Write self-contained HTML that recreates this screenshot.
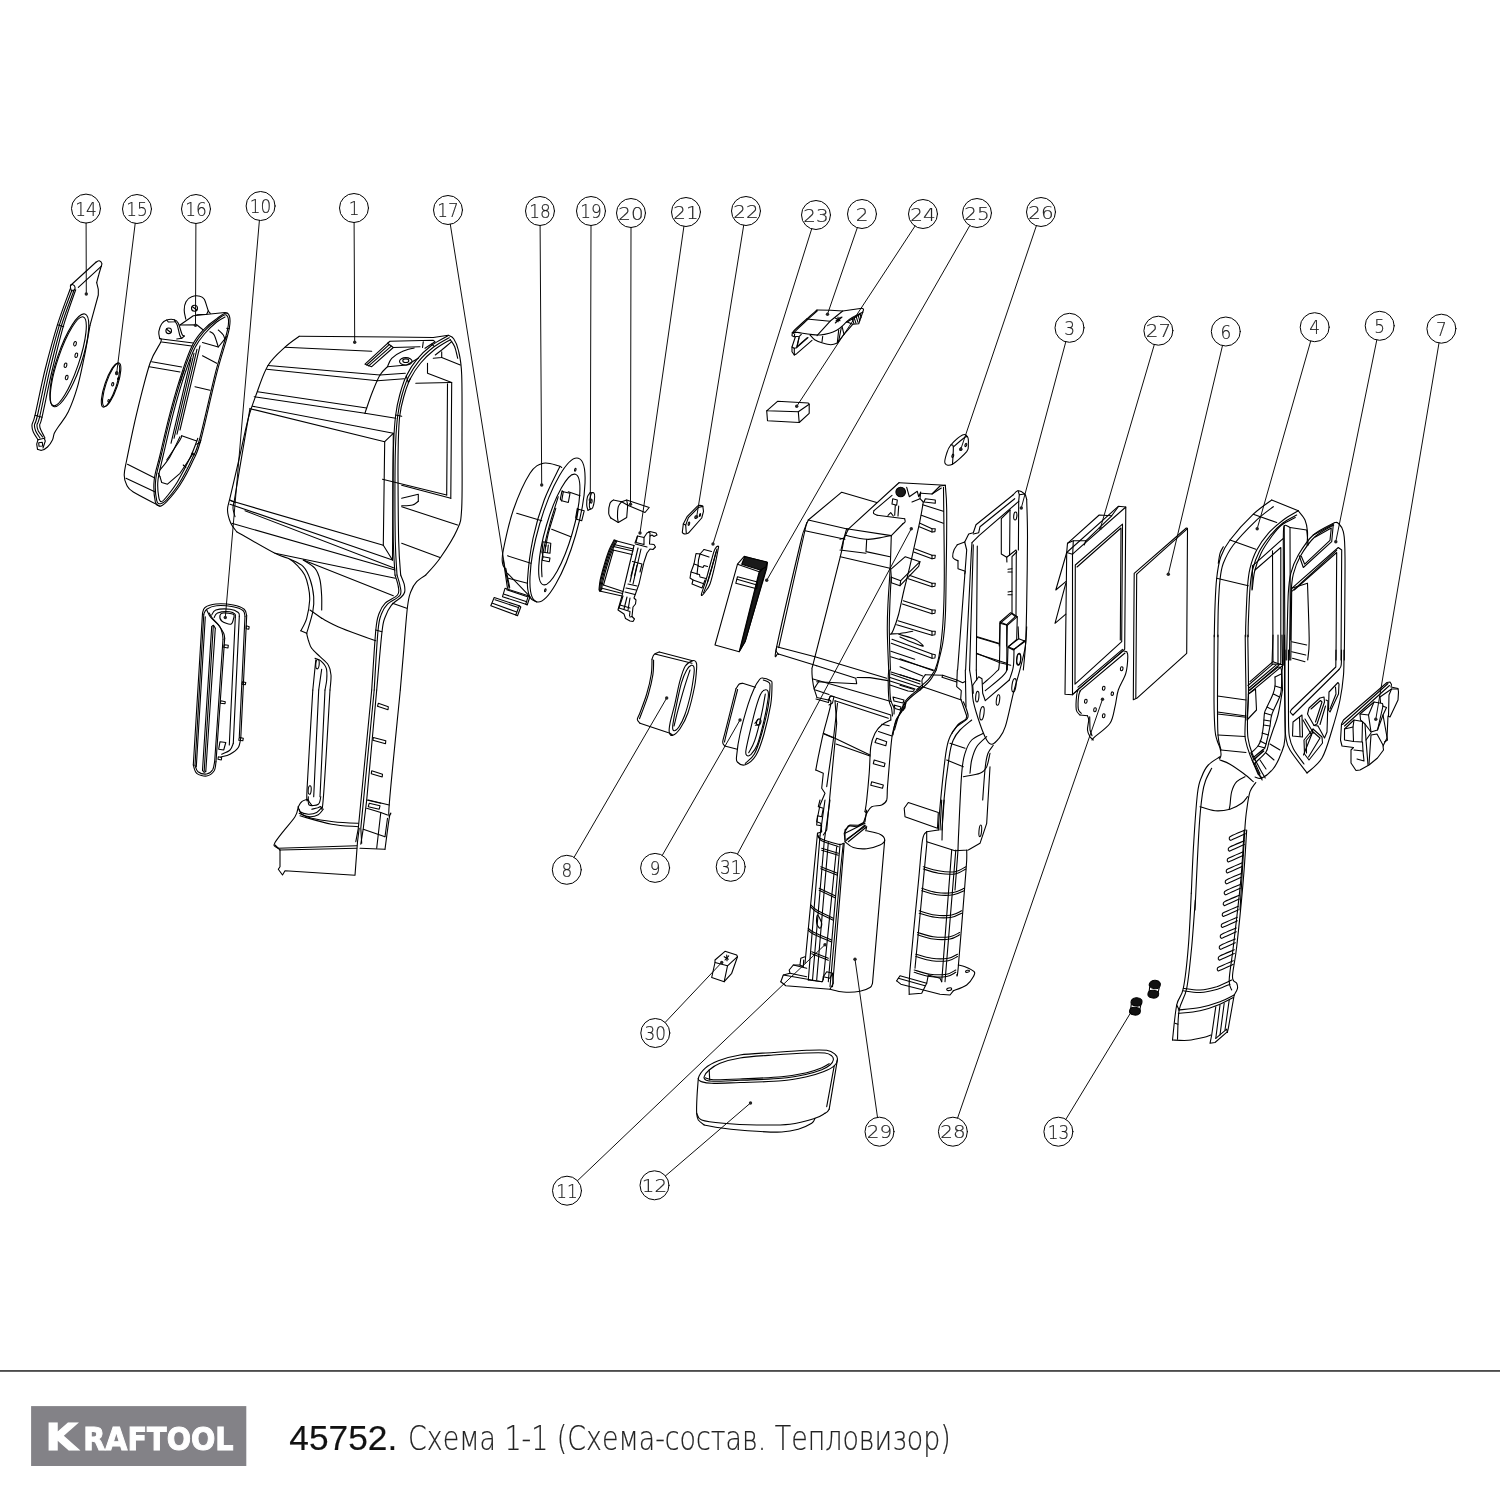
<!DOCTYPE html>
<html lang="ru"><head><meta charset="utf-8"><title>45752. Схема 1-1 (Схема-состав. Тепловизор)</title>
<style>
html,body{margin:0;padding:0;background:#fff}
body{width:1500px;height:1500px;overflow:hidden;position:relative;font-family:"Liberation Sans",sans-serif}
svg{position:absolute;left:0;top:0;will-change:transform}
#dw path,#dw ellipse,#dw circle{fill:none;stroke:#000;stroke-width:1.1;stroke-linecap:round;stroke-linejoin:round}
#dw .co circle{stroke:#000;stroke-width:1}
#dw .ld path{stroke:#000;stroke-width:.95}
#dw .dot{fill:#222;stroke:none}
#dw text{font-family:"DejaVu Sans Light","DejaVu Sans","Liberation Sans",sans-serif;font-weight:200;fill:#222;stroke:#222;stroke-width:.2;text-anchor:middle}
</style></head><body>
<svg id="dw" width="1500" height="1500" viewBox="0 0 1500 1500">
<!-- 01_p14_15.txt -->
<g>
<path d="M70.5 285.5L96.2 262"/>
<path d="M96.2 262C96.7 261.8 98.2 260.6 99.2 260.8C100.1 261.1 101.5 262.4 101.8 263.3C102.2 264.2 101.3 265.8 101.2 266.3"/>
<path d="M101.2 266.3L78.3 287.3"/>
<path d="M70.5 285.5C70.8 284.6 72.2 284.4 73 284.7C73.8 284.9 74.8 286.1 75 287C75.2 287.9 74.8 289.4 74.2 290C73.6 290.6 71.9 291.1 71.3 290.3C70.7 289.6 70.2 286.4 70.5 285.5Z"/>
<path d="M101.2 266.3C100.8 267.8 99.4 272.3 98.7 275C97.9 277.7 97 281.4 96.7 282.7"/>
<path d="M96.7 282.7L98.3 289.3L98.3 295L90 325.3"/>
<path d="M90 325.3C89.2 330 87.1 343.1 85 353.3C82.9 363.6 80.3 376.9 77.5 386.7C74.7 396.4 71.5 405.1 68.3 411.7C65.2 418.3 61 422.7 58.7 426.3C56.3 429.9 55.4 431 54.3 433.3C53.3 435.7 53.5 438.1 52.3 440.3C51.2 442.6 49.3 445.3 47.5 447C45.7 448.7 43.3 449.9 41.7 450.3C40 450.7 38.2 449.5 37.5 449.3"/>
<path d="M70.3 288.7C68.2 294.7 61.7 311.1 57.5 324.7C53.3 338.2 48.8 354.9 45 370C41.2 385.1 37.2 406.2 35 415.3C32.8 424.5 32.3 422.2 32 425C31.7 427.8 32.3 429.6 33.3 432C34.3 434.4 37.2 438.4 38 439.7"/>
<path d="M72 290C69.9 295.9 63.4 311.9 59.3 325.3C55.2 338.7 51 355.2 47.3 370.3C43.7 385.4 39.5 406.9 37.3 416C35.2 425.1 34.8 422.4 34.5 425C34.2 427.6 34.9 429.2 35.8 431.3C36.7 433.5 39.3 436.9 40 438"/>
<path d="M74 290.3C71.9 296.3 65.4 312.6 61.3 326C57.3 339.4 53.3 355.6 49.7 370.7C46.1 385.8 41.8 407.6 39.7 416.7C37.6 425.7 37.2 422.6 37 425C36.8 427.4 37.4 429 38.3 431C39.3 433 41.9 436 42.7 437"/>
<path d="M75.7 289.7C73.6 295.8 67.3 312.8 63.3 326.3C59.4 339.9 55.6 355.8 52 371C48.4 386.2 44.1 408.3 42 417.3C39.9 426.3 39.8 422.8 39.7 425C39.5 427.2 40.1 428.2 41 430.3C41.9 432.5 44.3 436.7 45 438"/>
<path d="M57.5 324.7L63.7 326.7"/>
<path d="M35 415.3L42 417.3"/>
<path d="M38 439.7L36.7 444.2L37.5 449.3"/>
<path d="M38 439.7L44.2 438.3L45.3 441L43 448"/>
<path d="M38.7 442.7L42.3 442.3L42.7 446L39 446.3Z"/>
<ellipse cx="69.3" cy="360.3" rx="48.8" ry="12.2" transform="rotate(108.7 69.3 360.3)"/>
<ellipse cx="68.3" cy="361.3" rx="46.8" ry="10.5" transform="rotate(108.7 68.3 361.3)"/>
<ellipse cx="75" cy="343.7" rx="1.3" ry="2.3" transform="rotate(15 75 343.7)"/>
<ellipse cx="76.3" cy="355.3" rx="1.3" ry="2.3" transform="rotate(15 76.3 355.3)"/>
<ellipse cx="65.5" cy="365.3" rx="1.3" ry="2.3" transform="rotate(15 65.5 365.3)"/>
<ellipse cx="66.7" cy="377.5" rx="1.3" ry="2.3" transform="rotate(15 66.7 377.5)"/>
<ellipse cx="111.7" cy="384.7" rx="23" ry="5.7" transform="rotate(108.8 111.7 384.7)"/>
<ellipse cx="110.5" cy="385.3" rx="23" ry="5.7" transform="rotate(108.8 110.5 385.3)"/>
<ellipse cx="116.7" cy="373.3" rx="1" ry="1.5" transform="rotate(10 116.7 373.3)"/>
<ellipse cx="112.7" cy="384.3" rx="1" ry="1.7" transform="rotate(10 112.7 384.3)"/>
<ellipse cx="108.7" cy="400.8" rx="0.8" ry="1.3" transform="rotate(10 108.7 400.8)"/>
<ellipse cx="118.3" cy="378.7" rx="0.7" ry="1" transform="rotate(10 118.3 378.7)"/>
</g>
<!-- 02_p16.txt -->
<g>
<path d="M159.7 338.3C159.9 338.9 162.4 337.8 160.8 342C159.2 346.2 154 351.4 150 363.3C146 375.2 140.6 397.2 136.7 413.3C132.8 429.4 128.8 449.7 126.7 460C124.6 470.3 124.2 470.8 124.2 475C124.2 479.2 125.1 482.2 126.7 485C128.2 487.8 127.8 488.5 133.3 492C138.9 495.5 155.6 503.8 160 506.2"/>
<path d="M227.5 313.3C229.6 314.9 231.1 318.3 229.3 328.3C227.5 338.3 221.4 354.7 216.7 373.3C211.9 391.9 204.7 425.6 200.8 440C196.9 454.4 196.8 452.5 193.3 460C189.9 467.5 184.4 478.1 180 485C175.6 491.9 170 498.1 166.7 501.7C163.3 505.2 161.9 506.2 160 506.2C158.1 506.2 156.3 506 155.3 501.7C154.4 497.3 153.4 487.8 154.2 480C154.9 472.2 157.4 466.1 160 455C162.6 443.9 166.4 426.9 170 413.3C173.6 399.7 177.9 384.7 181.7 373.3C185.4 361.9 188.9 352.2 192.5 345C196.1 337.8 199.3 334.4 203.3 330C207.4 325.6 212.6 321.4 216.7 318.7C220.7 315.9 225.4 311.7 227.5 313.3Z"/>
<path d="M226.3 315C228.2 316.4 229.7 318.6 227.8 328.3C226 338.1 220.1 354.8 215.3 373.3C210.6 391.9 203.4 425.2 199.5 439.5C195.6 453.8 195.4 451.6 192 459C188.6 466.4 183.2 476.9 179 483.7C174.8 490.4 169.7 496.3 166.7 499.7C163.6 503 162.3 503.6 160.7 503.7C159 503.8 157.5 504.3 156.7 500.3C155.8 496.4 154.9 487.6 155.7 480C156.4 472.4 158.7 466.1 161.3 455C163.9 443.9 167.7 426.9 171.3 413.3C174.9 399.7 179.3 384.6 183 373.3C186.7 362.1 190.2 353 193.7 346C197.2 339 200.2 335.6 204 331.3C207.8 327 212.9 322.9 216.7 320.2C220.4 317.4 224.5 313.6 226.3 315Z"/>
<path d="M225 317C223.6 317.8 219.9 319.3 216.7 322C213.4 324.7 208.9 328.8 205.3 333C201.8 337.2 198.7 340.3 195.3 347C191.9 353.7 188.7 362.3 185 373.3C181.3 384.4 176.9 399.7 173.3 413.3C169.7 426.9 165.9 443.9 163.3 455C160.8 466.1 158.8 473.1 158 480C157.2 486.9 158.1 493.1 158.7 496.7C159.2 500.3 160 501.7 161.3 501.7C162.7 501.7 164 500 166.7 496.7C169.4 493.3 173.6 488.2 177.5 481.7C181.4 475.1 186.9 464.6 190.3 457.3C193.7 450.1 196.6 441.5 197.8 438.3"/>
<path d="M180 325L193.3 315.8L225 312.5L227.5 313.3"/>
<path d="M180 325L196.7 324.7L203.3 330"/>
<path d="M159.7 338.7L193.3 343"/>
<path d="M161.7 342L191.7 346"/>
<path d="M185.8 319.2C185.6 317.6 184.1 312.9 184.2 310C184.2 307.1 184.8 303.9 186 301.7C187.2 299.4 189.3 297.6 191.7 296.7C194 295.8 197.9 295.7 200 296.2C202.1 296.6 202.9 296.9 204.3 299.3C205.7 301.8 207.3 308.5 208.3 310.8C209.3 313.2 210 312.9 210.3 313.3"/>
<path d="M208.3 310.8L206.7 314.3L196.7 314.7"/>
<ellipse cx="194.5" cy="308.3" rx="3" ry="3"/>
<path d="M192.5 306.7L196.7 310"/>
<path d="M159.7 338.3C159.5 337.2 158.5 334.1 158.8 331.7C159.2 329.2 160.4 325.6 161.7 323.7C163 321.7 164.6 320.7 166.7 320C168.8 319.3 172.4 319.1 174.3 319.7C176.3 320.2 177.1 320.9 178.3 323.3C179.6 325.8 181 332.1 182 334.2C183 336.3 183.9 335.7 184.3 336"/>
<path d="M184.3 336L181.7 338.3L176.7 339"/>
<path d="M166.7 320L168.3 322L175.3 321.7L174.3 319.7"/>
<path d="M175.3 321.7C175.7 322.4 176.8 323.6 177.5 325.8C178.2 328.1 179 332.9 179.7 335C180.4 337.1 181.3 337.8 181.7 338.3"/>
<ellipse cx="168.7" cy="330.8" rx="2.8" ry="2.8"/>
<path d="M166.7 329.2L170.8 332.5"/>
<path d="M151.7 361.7L181.7 367"/>
<path d="M149.3 366.7L180 372"/>
<path d="M127.5 464.2L154.3 477.7"/>
<path d="M126 478.3L155.3 492"/>
<path d="M202.5 355.8L216.7 363.3"/>
<path d="M195 386.7L210 390.3"/>
<path d="M181.7 435.8L196.7 441"/>
<path d="M202.5 342.5L218.3 347L226.7 336.7"/>
<path d="M210 331.7C210.7 332.2 212.8 332.4 214.2 335C215.6 337.6 217.6 345 218.3 347"/>
<path d="M218.3 330C219.2 330.8 222.2 333.3 223.3 335C224.4 336.7 224.7 339.2 225 340"/>
<path d="M226.7 328.3L229.3 328.7"/>
<path d="M200 345.8L180 430"/>
<path d="M197 349.2L177 434.2"/>
<path d="M194 353.3L174 438.3"/>
<path d="M191 358.3L171 443.3"/>
<path d="M200.8 440C200.7 440.4 200.7 441.8 200 442.5C199.3 443.2 197.2 443.9 196.7 444.2"/>
<path d="M181.7 378.3C181.4 379 179.6 383.9 180 382.5C180.4 381.1 183.5 372.1 184.2 370"/>
<path d="M166.7 460C168.9 456.7 177.5 444 180 440C182.5 436 181.4 436.5 181.7 435.8"/>
<path d="M160 470C161.7 467.8 166.7 462.2 170 456.7C173.3 451.1 178.3 440 180 436.7"/>
<path d="M160 476.7L161.7 482.5L167.5 484.2L180 473.3L193.3 453.3"/>
<path d="M158.3 473.3L160 476.7"/>
<path d="M183.3 465L185.8 467.5"/>
<path d="M191.7 453.3L195 455"/>
</g>
<!-- 03_p1_top.txt -->
<g>
<path d="M299.2 336.3C296.8 338.1 290.2 342.3 285 347.2C279.8 352 272.7 357.8 268 365.5C263.3 373.2 259.9 384.5 256.7 393.3C253.4 402.1 251.2 407.5 248.3 418.3C245.4 429.2 242.2 445.3 239.2 458.3C236.2 471.4 232.3 488.1 230.3 496.7C228.4 505.3 227.4 505.6 227.5 510C227.6 514.4 229.3 519.7 230.8 523.3C232.4 526.9 235.7 530.3 236.7 531.7"/>
<path d="M250 408.3C248.6 416.4 244.2 441.7 241.7 456.7C239.1 471.7 236.1 489.7 234.7 498.3C233.2 506.9 232.9 505.3 233 508.3C233.1 511.4 234.7 515.3 235 516.7"/>
<path d="M299.2 336.3L391.7 337L433.3 337.5L448.3 335.3"/>
<path d="M448.3 335.3C449.2 335.9 452 336.2 453.7 338.7C455.3 341.1 457 343.9 458.3 350C459.7 356.1 461.1 359.7 461.7 375C462.3 390.3 462 419.4 462 441.7C462 463.9 462.5 493.6 461.7 508.3C460.8 523.1 460.6 521.7 457 530C453.4 538.3 445.2 550.8 440 558.3C434.8 565.8 428.2 572.2 425.8 575"/>
<path d="M447.5 336C444.9 337.6 436.8 341.4 431.7 345.3C426.5 349.3 420.9 354.6 416.7 359.7C412.4 364.8 409.2 370.1 406.3 376C403.5 381.9 401.4 388.5 399.7 395C397.9 401.5 396.7 407.2 395.7 415C394.7 422.8 394.1 431.7 393.7 441.7C393.2 451.7 393.1 458.3 393 475C392.9 491.7 393 525 393.3 541.7C393.7 558.3 394.7 569.4 395 575"/>
<path d="M449.2 337.7C446.5 339.3 438.4 343.4 433.3 347.3C428.3 351.3 422.8 356.3 418.7 361.3C414.5 366.3 411.2 371.6 408.3 377.3C405.5 383.1 403.4 389.6 401.7 396C399.9 402.4 398.7 408.1 397.7 415.7C396.7 423.3 396.1 431.8 395.7 441.7C395.2 451.6 395.1 458.3 395 475C394.9 491.7 395 525 395.3 541.7C395.7 558.3 396.7 569.4 397 575"/>
<path d="M450.3 339.7C447.8 341.3 439.9 345.4 435 349.3C430.1 353.2 424.8 358.1 420.7 363C416.6 367.9 413.2 373 410.3 378.7C407.5 384.3 405.4 390.7 403.7 397C401.9 403.3 400.6 408.9 399.7 416.3C398.8 423.8 398.6 431.9 398.3 441.7C398.1 451.4 397.9 458.3 398 475C398.1 491.7 398.2 525 398.7 541.7C399.1 558.3 400.3 569.4 400.7 575"/>
<path d="M451.7 341.7C450 343.1 444.4 347.8 441.7 350C438.9 352.2 436.4 354.2 435.3 355"/>
<path d="M450.3 339.7C451.1 340.8 453.4 343.6 454.7 346.7C455.9 349.8 457.2 356.4 457.7 358.3"/>
<path d="M406.3 376L408.3 382.5L410.3 378.7"/>
<path d="M395.7 415L401.7 416.3"/>
<path d="M285 347.2L371.7 351.3"/>
<path d="M268 365.5L380 375"/>
<path d="M266.7 369.2L377.5 380.8"/>
<path d="M257.5 391.7L366.7 408"/>
<path d="M254.2 396.7L365 413.3"/>
<path d="M252.5 406.2L393.3 433.3"/>
<path d="M250 408.7L384.7 441.7"/>
<path d="M393.3 433.3L384.7 441.7"/>
<path d="M384.7 441.7L383.3 545.3"/>
<path d="M393.3 433.3L392.5 560"/>
<path d="M392.5 560L383.3 545.3"/>
<path d="M383.3 545.3L230.8 500.8"/>
<path d="M392.5 560L230 504.2"/>
<path d="M231.7 523.3L395 570"/>
<path d="M230 500L235 502.5"/>
<path d="M387.5 366.7C386.2 368.1 382.5 370.8 380 375C377.5 379.2 374.7 386.2 372.5 391.7C370.3 397.2 367.9 404.4 366.7 408C365.4 411.6 365.3 412.4 365 413.3"/>
<path d="M365 413.3L395.8 418.3"/>
<path d="M380 375L405.3 373.3"/>
<path d="M377.5 380.8L404.3 378.7"/>
<path d="M365 364.2L387.5 343.3L393.3 347.5L371.7 366.7Z"/>
<path d="M366.7 365L389.2 344.7"/>
<path d="M368.7 365.8L391.3 346.2"/>
<path d="M387.5 343.3L390 341.3L433.3 340.3L435 341.7L425 348.3"/>
<path d="M393.3 347.5L420 346.7"/>
<path d="M423.3 341.7L422.5 347.5"/>
<path d="M387.5 366.7C388.2 365.3 389.3 360.8 391.7 358.3C394 355.8 397.9 353.4 401.7 351.7C405.4 349.9 412.1 348.6 414.2 348"/>
<path d="M387.5 366.7L406.7 365L418.3 358.3"/>
<ellipse cx="405.8" cy="361.3" rx="6.3" ry="3.7"/>
<ellipse cx="405.8" cy="360.7" rx="3" ry="1.8"/>
<path d="M431.7 344.2L434.2 346.3"/>
<path d="M415.8 383.3L450.8 382.5"/>
<path d="M451.7 382.5L450.8 498.3"/>
<path d="M447.5 383.7L446.7 495"/>
<path d="M450.8 498.3L401.7 485.3"/>
<path d="M446.7 495L382.5 479.2"/>
<path d="M427.5 363.3L427.5 373.3L451.7 382.5"/>
<path d="M441.7 357.5L460.3 365"/>
<path d="M433.3 358.3L441.7 357.5L441.7 351.7"/>
<path d="M401.7 498.3L418.3 494.2L418.3 501.3"/>
<path d="M401.7 505.8C403.5 505.7 409.7 505.8 412.5 505C415.3 504.2 417.4 501.9 418.3 501.3"/>
<path d="M401.7 506.7L457.5 525"/>
<path d="M401.7 543.3L440 557.5"/>
</g>
<!-- 04_p10.txt -->
<g>
<path d="M202.5 613.3C202.9 612.4 202.8 609.1 205 607.5C207.2 605.9 211.1 604.4 215.8 604C220.6 603.6 228.6 604.1 233.3 605C238.1 605.9 241.9 607.4 244.2 609.2C246.4 611 246.3 614.7 246.7 615.8"/>
<path d="M203.8 614.2C204.3 613.3 204.6 610.6 206.7 609.2C208.8 607.8 211.9 606.1 216.3 605.7C220.7 605.2 228.6 605.9 233 606.7C237.4 607.5 241 608.9 243 610.5C245 612.1 244.7 615.4 245 616.3"/>
<path d="M246.7 615.8L240.8 737.5"/>
<path d="M245 616.3L239.3 736.7"/>
<path d="M240.8 737.5C240.4 739.2 240.1 744.7 238.3 747.5C236.5 750.3 232.9 752.6 230 754.2C227.1 755.8 222.4 756.5 220.8 757"/>
<path d="M233.3 743.3C232.8 744.4 231.9 748.2 230 750C228.1 751.8 223.1 753.6 221.7 754.3"/>
<path d="M202.5 613.3L193.3 765"/>
<path d="M203.8 614.2L195 765.3"/>
<path d="M205.3 616.7L196.3 766.7"/>
<path d="M193.3 765C193.9 766.4 194.4 771.5 196.7 773.3C198.9 775.2 203.8 776.4 206.7 776C209.6 775.6 212.6 773.2 214.2 770.8C215.7 768.4 215.7 763.2 216 761.7"/>
<path d="M195 765.3C195.5 766.4 196.1 770.2 198 771.7C199.9 773.1 204.2 774.3 206.7 774C209.1 773.7 211.3 771.8 212.7 769.7C214 767.6 214.3 762.7 214.7 761.3"/>
<path d="M224.7 638.3L216 761.7"/>
<path d="M223 639.2L214.7 761.3"/>
<path d="M206.7 610C207.4 611.2 208.9 615 210.8 617.5C212.8 620 216.2 622.4 218.3 625C220.5 627.6 222.6 631.1 223.7 633.3C224.7 635.6 224.5 637.5 224.7 638.3"/>
<path d="M209.2 613C209.8 613.9 210.9 616.4 212.7 618.7C214.4 620.9 218.1 623.9 219.7 626.3C221.3 628.8 221.8 631.2 222.3 633.3C222.9 635.5 222.9 638.2 223 639.2"/>
<path d="M211.7 615C212.4 614.2 212.8 611 215.8 610C218.9 609 226.2 608.8 230 609.2C233.8 609.6 236.8 611.3 238.3 612.5C239.9 613.7 239.2 615.7 239.3 616.3"/>
<path d="M239.3 616.3L233.3 743.3"/>
<path d="M235.3 617.5L229.3 745"/>
<path d="M214.2 617.5C214.7 616.8 214.9 614 217.5 613C220.1 612 226.8 611.5 229.7 611.7C232.6 611.9 234.1 613.2 235 614.2C235.9 615.1 235.3 616.9 235.3 617.5"/>
<path d="M211.7 626.7C211.9 626.4 212.7 625.1 213.3 625.3C213.9 625.6 215 627.8 215.3 628.3"/>
<path d="M211.7 626.7L202.5 770.3"/>
<path d="M215.3 628.3L205.8 771.3"/>
<path d="M213.3 626L204.2 771"/>
<path d="M202.5 770.3C202.8 770.7 203.4 772.2 204 772.3C204.6 772.5 205.5 771.5 205.8 771.3"/>
<path d="M220 615.3C220.3 614 221.1 613.2 223.3 613C225.6 612.8 231.6 613.5 233.3 614.3C235.1 615.2 234.1 616.4 233.7 618C233.2 619.6 232.8 623.7 230.8 624.2C228.8 624.7 223.5 622.5 221.7 621C219.9 619.5 219.7 616.7 220 615.3Z"/>
<path d="M246.3 625.8L249.2 626.7L248.8 629.2L246.2 628.7Z"/>
<path d="M224.2 644.7L228.3 645.3L228 648L223.7 647.3Z"/>
<path d="M242.5 681.7L245.8 682.5L245.3 684.7L242 684.2Z"/>
<path d="M220.8 700.8L225.3 701.7L225 703.7L220.5 703.3Z"/>
<path d="M239.2 737.5L243.3 738.3L242.8 740.8L238.8 740.3Z"/>
<path d="M218.3 756.7L221.7 757.5L221.3 760L218 759.3Z"/>
<path d="M220 741.7L225.8 742.5L223.7 750L218.7 749.2Z"/>
</g>
<!-- 05_p1_mid.txt -->
<g>
<path d="M236.7 531.7C243.1 535.3 266.1 548.8 275 553.3C283.9 557.9 286.1 556.9 290 559.2C293.9 561.4 295.9 564 298.3 566.7C300.8 569.3 303 571.7 304.7 575C306.3 578.3 307.5 582.5 308.3 586.7C309.2 590.8 309.9 594.7 309.7 600C309.4 605.3 308.1 613.2 306.7 618.3C305.2 623.5 301.8 628.8 300.8 630.8"/>
<path d="M300.8 630.8L306.7 633.3"/>
<path d="M306.7 633.3C306.9 634.4 307.5 637.5 308.3 640C309.2 642.5 309.7 645.6 311.7 648.3C313.6 651.1 317.2 653.9 320 656.7C322.8 659.4 326.5 661.9 328.3 665C330.2 668.1 330.7 670.8 331 675C331.3 679.2 330.2 687.5 330 690"/>
<path d="M290 559.2C292.2 560.4 299.9 563.2 303.3 566.7C306.7 570.1 308.6 575 310.3 580C312.1 585 313.2 591.4 313.7 596.7C314.1 601.9 314 605.6 312.8 611.7C311.7 617.8 307.7 629.7 306.7 633.3"/>
<path d="M303.3 560C305.3 561.4 312.2 565 315 568.3C317.8 571.7 318.9 575.3 320 580C321.1 584.7 321.4 591.7 321.7 596.7C321.9 601.7 321.7 607.8 321.7 610"/>
<path d="M310 610L321.7 618.3"/>
<path d="M321.7 618.3C325 620 332.6 624.6 341.7 628.3C350.7 632.1 370.1 638.8 375.8 640.8"/>
<path d="M245 510.8L394.7 568.3"/>
<path d="M275 553.3L395.3 578.3"/>
<path d="M303.3 560L393.3 595.8"/>
<path d="M315 658.3C316 658.8 318.9 659.2 320.8 660.8C322.7 662.5 325.4 665.1 326.3 668.3C327.3 671.5 326.9 676.4 326.7 680C326.4 683.6 325.3 688.3 325 690"/>
<path d="M321.7 669.2L318.7 690"/>
<path d="M315.8 659.7L312.8 690"/>
<ellipse cx="317.5" cy="664.2" rx="1.7" ry="4.7" transform="rotate(4 317.5 664.2)"/>
<path d="M395 575C395.6 576.9 397.9 583.3 398.3 586.7C398.8 590 399.7 592.2 397.5 595C395.3 597.8 388.1 600.3 385 603.3C381.9 606.4 380.7 608.9 379.2 613.3C377.6 617.8 377.1 617.2 375.8 630C374.6 642.8 372.4 680 371.7 690"/>
<path d="M397 575C397.5 576.8 399.5 582.4 400 585.8C400.5 589.2 402.1 592.3 400 595.3C397.9 598.4 390.6 601 387.5 604.2C384.4 607.3 382.9 609.9 381.3 614.3C379.8 618.8 379.2 618.1 378 630.7C376.8 643.3 374.8 680.1 374.2 690"/>
<path d="M400.7 575C401.2 576.5 403.5 581.3 404.2 584.2C404.8 587 405.1 589.9 404.7 592C404.2 594.1 403.6 594.8 401.3 597C399.1 599.2 394 602.1 391.3 605.3C388.7 608.6 386.9 612.3 385.3 616.7C383.8 621.1 383.4 619.4 382 631.7C380.6 643.9 377.6 680.3 376.7 690"/>
<path d="M375.8 630L382 631.7"/>
<path d="M392.5 603.3L406.7 608.3"/>
<path d="M425.8 575C424.3 576.1 419.2 578.9 416.7 581.7C414.2 584.4 412.4 587.5 410.8 591.7C409.3 595.8 408.8 596.1 407.5 606.7C406.2 617.2 404.5 641.1 403.3 655C402.1 668.9 400.8 684.2 400.3 690"/>
<path d="M378.3 703.3L388.3 706.7L388 709.7L377.5 706.3Z"/>
</g>
<!-- 06_p1_bot.txt -->
<g>
<path d="M312.8 690C311.9 706.7 307.8 771.7 307 790C306.2 808.3 307.6 797.5 308.3 800C309.1 802.5 311.1 804.2 311.7 805"/>
<path d="M330 690C328.9 708.1 325 778.9 323.3 798.3C321.7 817.8 321.9 804.9 320 806.7C318.1 808.5 313.1 808.8 311.7 809.2"/>
<path d="M325 690L320 796.7"/>
<path d="M318.7 690L313.7 796.7"/>
<path d="M308.3 796.7C308.5 798.1 307.5 803.8 309.2 805C310.8 806.2 316.4 805.6 318.3 804.2C320.3 802.8 320.4 797.9 320.8 796.7"/>
<ellipse cx="309.7" cy="790" rx="1.5" ry="4.3" transform="rotate(4 309.7 790)"/>
<path d="M298.3 806.7C298.9 805.8 300.1 802.9 301.7 801.7C303.2 800.4 306.5 799.6 307.5 799.2"/>
<path d="M298.3 806.7C298.6 807.5 298.3 810.4 300 811.7C301.7 812.9 305.6 814 308.3 814.2C311.1 814.3 314.3 813.8 316.7 812.5C319 811.2 321.5 807.6 322.5 806.7"/>
<path d="M299.2 809.2C299.6 810 299.9 812.9 301.7 814.2C303.5 815.4 307.2 816.6 310 816.7C312.8 816.8 316.1 815.9 318.3 814.7C320.6 813.4 322.5 810.1 323.3 809.2"/>
<path d="M298.3 806.7C297.8 808.3 297.8 812.2 295 816.7C292.2 821.1 285 829 281.7 833.3C278.3 837.6 276.2 840.4 275 842.5C273.8 844.6 273.6 844.9 274.2 845.8C274.7 846.8 277.6 847.9 278.3 848.3"/>
<path d="M278.3 848.3L356.7 845.8"/>
<path d="M275 845L280 850"/>
<path d="M280 850L356.7 848.3"/>
<path d="M299.2 813.3C301.2 814.2 306 816.9 311.7 818.3C317.4 819.7 325.6 820.8 333.3 821.7C341.1 822.5 354.2 823.1 358.3 823.3"/>
<path d="M300 815.8C305.3 817.2 321.9 822.4 331.7 824.2C341.4 826 353.9 826.2 358.3 826.7"/>
<path d="M280 850L280 866.7L278.3 869.2L282.5 875L285 870.8L355 875.3L357.5 841.7L359.2 828.3"/>
<path d="M371.7 690L358.3 828.3L355.8 841.7"/>
<path d="M374.2 690L360.8 828.3L361.7 843.3"/>
<path d="M376.7 690L366.7 800L363.3 828.3L360.8 844.2"/>
<path d="M400.3 690C398.5 709.2 390.7 784.4 389.2 805C387.6 825.6 390.8 811.1 390.8 813.3C390.8 815.6 390.1 812.4 389.2 818.3C388.2 824.3 385.7 844 385 849.2"/>
<path d="M385 849.2L360 848.3"/>
<path d="M368.3 800L389.2 805"/>
<path d="M366.7 808.3L380.8 812.5L387.5 815"/>
<path d="M380.8 812.5L376.7 848.3"/>
<path d="M363.3 829.2L385 836.7"/>
<path d="M387.5 818.3L385 836.7"/>
<path d="M369.2 803.3L380 805.8L379.2 809.2L368.3 806.7Z"/>
<path d="M373.3 737.5L385.8 740.8L385.5 743.7L373 740.3Z"/>
<path d="M371.7 770.8L382.5 774.2L382.2 777L371.3 773.7Z"/>
<path d="M366.7 800L380.8 803.3"/>
</g>
<!-- 07_p17_20.txt -->
<g>
<ellipse cx="557.5" cy="530" rx="74.8" ry="18.8" transform="rotate(106.2 557.5 530)"/>
<ellipse cx="559.3" cy="529.5" rx="57.5" ry="13.5" transform="rotate(106.2 559.3 529.5)"/>
<path d="M560 466.3C557.4 471.9 548.7 488 544.2 500C539.7 512 535.8 525 533 538.3C530.2 551.7 528.1 570.3 527.5 580C526.9 589.7 528.1 593 529.7 596.7C531.2 600.3 535.5 601.1 536.7 602"/>
<path d="M561.7 467.5C561.1 467.2 561.4 466.5 558.3 465.8C555.3 465.1 548.1 462.1 543.3 463.3C538.6 464.6 535 465.6 530 473.3C525 481.1 517.8 497.2 513.3 510C508.9 522.8 505.1 541.1 503.3 550C501.5 558.9 502.2 560.3 502.5 563.3C502.8 566.4 504.6 567.5 505 568.3"/>
<path d="M505 568.3L509.2 588.3"/>
<path d="M507.5 573.3L530 596.7"/>
<path d="M516.7 513.3L541.7 520.8"/>
<path d="M507.5 555.8L530.8 563.3"/>
<path d="M508.3 578.3L527.5 583.3"/>
<path d="M551.7 529.2L570.8 536.7"/>
<path d="M568.3 491.7L580 495.8"/>
<path d="M558.3 496.7C556.9 501.1 552.4 515 550 523.3C547.6 531.7 545.6 540 544.2 546.7C542.8 553.3 542 558.3 541.7 563.3C541.3 568.3 541.9 574.4 542 576.7"/>
<path d="M555.8 508.3C554.6 512.5 550 526.9 548.3 533.3C546.7 539.7 546.2 544.4 545.8 546.7"/>
<path d="M563.3 491.7L570 493.3L568.3 502.5L561.7 500.8Z"/>
<path d="M561.7 500.8L560.3 499.2L562 490.8L563.3 491.7"/>
<path d="M578.3 509.2L584.2 510.8L581.7 520.8L576.7 519.2Z"/>
<path d="M576.7 519.2L575.7 517.5L577.3 508.3L578.3 509.2"/>
<path d="M543 541.7L550.8 543.3L550 553.3L542 552Z"/>
<path d="M543 556.7L550 558L549.3 561.7L542.3 560.3Z"/>
<path d="M542 552L543 556.7"/>
<path d="M545.8 545L545 551.7"/>
<path d="M548.3 545L547.5 552.5"/>
<ellipse cx="575.3" cy="469.7" rx="0.7" ry="1.5" transform="rotate(15 575.3 469.7)"/>
<ellipse cx="545.3" cy="590.3" rx="0.7" ry="1.5" transform="rotate(15 545.3 590.3)"/>
<ellipse cx="592" cy="500.8" rx="2.3" ry="8.3" transform="rotate(8 592 500.8)"/>
<path d="M590 492.8C589.6 493.5 588.1 494.6 587.5 496.7C586.9 498.7 586.6 502.7 586.7 505C586.8 507.3 587.8 509.4 588 510.3"/>
<path d="M590 492.8L592.5 492.5"/>
<path d="M588 510.3L590.8 509"/>
<ellipse cx="591.3" cy="501.3" rx="0.8" ry="2" transform="rotate(8 591.3 501.3)"/>
<path d="M503.3 560L507.5 588.3"/>
<path d="M505.8 568.3L509.7 587.5"/>
<path d="M505 588.3L528.3 595.8L525.8 604.2L502.5 596.7Z"/>
<path d="M506.7 589.7L527.5 596.7"/>
<path d="M504.2 594.2L526.7 601.7"/>
<path d="M528.3 595.8L529.7 597.5L527.2 605L525.8 604.2"/>
<path d="M494.2 597.5L519.2 605.8L515.8 615L490.8 605.8Z"/>
<path d="M495 599.7L518.3 607.5"/>
<path d="M492.5 603.3L516.7 612"/>
<path d="M519.2 605.8L520.8 607L517.5 615.8L515.8 615"/>
<path d="M613.3 500C612.8 500.6 610.8 501.1 610 503.3C609.2 505.6 608.5 510.9 608.7 513.3C608.8 515.8 610.5 517.2 610.8 518"/>
<path d="M613.3 500L621.7 501.7"/>
<path d="M610.8 518L618.3 522.5"/>
<path d="M621.7 501.7C621.1 502.5 619 504.2 618.3 506.7C617.6 509.2 617.5 514 617.5 516.7C617.5 519.3 618.2 521.5 618.3 522.5"/>
<path d="M618.3 522.5L626.7 517.5L627.7 505.3L621.7 501.7"/>
<path d="M621.7 501.7L626.7 500L649.2 507.5L645 512.5L627.7 505.3"/>
<path d="M626.7 500L627.7 505.3"/>
<path d="M682.3 532.3L683.3 524L687.3 516.3L697.7 505.9Q700 504.8 702.8 506.1L703.5 511.3L701.7 518L688.4 533.1Q685.3 534.7 683.3 533.6Z"/>
<path d="M683.3 524L685.7 525.1L686.3 533.3"/>
<path d="M685.7 525.1L688.4 517.6L698.3 507.5L702.8 506.4"/>
<ellipse cx="688.9" cy="523.7" rx="0.7" ry="1.7" transform="rotate(15 688.9 523.7)"/>
<ellipse cx="695.7" cy="517.3" rx="0.9" ry="1.2" transform="rotate(15 695.7 517.3)"/>
<ellipse cx="700" cy="514.9" rx="0.5" ry="1.5" transform="rotate(15 700 514.9)"/>
</g>
<!-- 08_p21_23.txt -->
<g>
<path d="M615 540C614.2 541.7 611.7 545.8 610 550C608.3 554.2 606.5 560 605 565C603.5 570 601.9 575.7 601 580C600.1 584.3 599.8 589.2 599.5 591"/>
<path d="M616 540.5C615.2 542.2 612.7 546.3 611 550.5C609.3 554.7 607.5 560.5 606 565.5C604.5 570.5 602.9 576.2 602 580.5C601.1 584.8 600.8 589.4 600.5 591.2"/>
<path d="M617 541C616.2 542.7 613.7 546.8 612 551C610.3 555.2 608.5 561 607 566C605.5 571 603.9 577 603 581C602.1 585 601.8 588.5 601.6 590"/>
<path d="M614.2 539.8C613.4 541.5 610.9 545.6 609.2 549.8C607.5 554 605.7 559.8 604.2 564.8C602.7 569.8 601.1 575.6 600.2 579.8C599.3 584 599.2 588.3 599 590"/>
<path d="M615 540.5L634 545.5"/>
<path d="M614 544.5L633.5 549"/>
<path d="M613.5 546.5L633 551"/>
<path d="M613 550L632 554.5"/>
<path d="M613.5 550L603.5 585"/>
<path d="M599.5 591L622 596"/>
<path d="M601 588L622.5 593.5"/>
<path d="M603.5 585L623 591.5"/>
<path d="M634 545.5L623 591.5L622 596L618.5 608L618 610L624 614L625.5 618.5L630 621L633 621.5L634.5 619L632 616.5L630 617"/>
<path d="M635 543L637.5 536L644 537.5L647 533L650 531.5L656 533L657 535L654 536.5L652 535L650 536L649.5 544L654 544.5L655.5 547L653 549.5L650 549L647 553L644 562L639 584L634 598L636 600L635.5 604L633 607L632 616.5"/>
<path d="M637.5 536L636 542.5L644 544.5L644 537.5"/>
<path d="M635.5 544L647 547"/>
<path d="M638 548L630 582"/>
<path d="M641 549L633 584"/>
<path d="M632.5 561.5L642 564L640 572"/>
<path d="M634 564L631 576"/>
<path d="M637 565L634.5 576"/>
<path d="M626 588L636 590"/>
<path d="M625 592L635 594.5"/>
<path d="M628 584L637 586"/>
<path d="M623 596L619 608"/>
<path d="M627 597L624 609"/>
<path d="M630 598L628 610"/>
<path d="M620 605L630 608"/>
<path d="M619 608L630 611.5L629.5 616"/>
<path d="M648.5 532L650 533L650 536"/>
<path d="M718.5 546.2C718 546 716.2 546.7 715 549C713.8 551.3 713 554.8 711.5 560C710 565.2 707.7 574.3 706 580C704.3 585.7 702.1 591.5 701.5 594C700.9 596.5 701.9 595.3 702.5 595C703.1 594.7 703.8 593.8 705 592C706.2 590.2 708.3 588.5 710 584C711.7 579.5 713.7 570.7 715 565C716.3 559.3 717.4 553.1 718 550C718.6 546.9 719 546.4 718.5 546.2Z"/>
<path d="M717 549C716.4 551.2 715 556.7 713.5 562C712 567.3 709.7 575.8 708 581C706.3 586.2 704.2 591 703.5 593"/>
<path d="M716 552C715.4 554.2 713.9 560 712.5 565C711.1 570 708.3 579.2 707.5 582"/>
<path d="M704 549.5L711.5 551.5"/>
<path d="M704 549.5L700 554L696 553.5L694 564L691 572L690 578L693 580L692 584L702 588L705 580"/>
<path d="M700 554L709 557"/>
<path d="M700 554L698.5 560L698 566L703 567.5L704 565.5L707.5 566.5"/>
<path d="M694 564L698.5 565.5"/>
<path d="M697.5 570L697 574L699.5 574.5L700 577L706 578.5"/>
<path d="M691 572L697.5 574"/>
<path d="M693 580L703 583.5"/>
<path d="M698 566L697.5 570"/>
</g>
<!-- 09_p2_24_26.txt -->
<g>
<path d="M792.3 332.7C792.9 332.1 793.3 331.3 795.7 329C798.1 326.7 803.1 322.2 806.7 319C810.2 315.8 815.3 311.5 817 310"/>
<path d="M817 310L830.7 310.3L842.7 311L862 308.3"/>
<path d="M862 308.3C862.2 308.5 863.4 308.7 863.5 309.3C863.6 310 862.8 311.8 862.7 312.3"/>
<path d="M862.7 312.3C861 313.2 855.3 315.8 852.7 317.3C850 318.9 848.4 320.2 846.7 321.7C844.9 323.2 843.7 324.9 842 326.3C840.3 327.8 838.8 329.2 836.7 330.3C834.6 331.5 832.1 332.6 829.3 333.3C826.6 334.1 823.2 334.8 820 335C816.8 335.2 813.1 334.7 810 334.3C806.9 334 803.6 333.3 801.3 333C799.1 332.7 798.2 332.4 796.7 332.3C795.2 332.3 793.1 332.6 792.3 332.7"/>
<path d="M793.3 333.3C793.9 332.7 794.3 332.1 796.7 329.8C799 327.5 803.9 323 807.3 319.8C810.8 316.6 815.7 312.4 817.3 310.9"/>
<path d="M806.7 319L830 321.3L842.7 311"/>
<path d="M830 321.3L817 335.7"/>
<path d="M792.3 332.7L792 335.7L794.3 336.7L799.3 336.3L801.3 334.3"/>
<path d="M794.3 336.7L794.7 333.7"/>
<path d="M795.3 337L792 347L792 351.7L794.3 355L796.7 353.7L812 340.3"/>
<path d="M799.3 336.7L796.7 347.7L808 337.7"/>
<path d="M799 337.7L797 346.7L807.3 337.7"/>
<path d="M792 347L794.3 348.3L796.7 347.7"/>
<path d="M794.3 348.3L794.3 355"/>
<path d="M810 335C810.8 335.8 812.6 338.3 814.7 339.7C816.8 341 820 342.2 822.7 343C825.3 343.8 828.2 344.7 830.7 344.7C833.1 344.7 836 343.6 837.3 343C838.7 342.4 838.4 341.3 838.7 341"/>
<path d="M822.7 336.3L822 341.7"/>
<path d="M838.7 329.7L837.3 343"/>
<path d="M841.3 327.7L838.7 341"/>
<path d="M846.7 321.7L852.7 324.3L858.7 323.7L862.7 312.3"/>
<path d="M842 326.3L844 334.3L838.7 341"/>
<path d="M852.7 324.3L844 334.3"/>
<path d="M852 318.3L854 323.7"/>
<path d="M854 317.3L856 323.3"/>
<path d="M856 316L858 322.3"/>
<path d="M858 314.7L859.7 320.7"/>
<path d="M860 313.3L861 317.7"/>
<path d="M846.7 322.3L860 314.3"/>
<path d="M835.3 318L840 320.7"/>
<path d="M836 321L840.3 317.3"/>
<path d="M838 317L838.1 321.7"/>
<path d="M835.3 323L842 317"/>
<path d="M766.7 410.8L777.5 401.3L808.3 403L809.2 404.2L798.3 411.7Z"/>
<path d="M766.7 410.8L767.5 420.8L799.2 422.5L798.3 411.7"/>
<path d="M809.2 404.2L809.2 413.3L799.2 422.5"/>
<path d="M945 463.3C944 461.5 945.7 456.4 946.7 453.3C947.6 450.3 948.2 448.1 950.8 445C953.5 441.9 959.7 436.4 962.5 435C965.3 433.6 966.5 435.1 967.5 436.7C968.5 438.2 968.5 441.7 968.3 444.2C968.2 446.7 969.3 448.3 966.7 451.7C964 455 956.1 462.2 952.5 464.2C948.9 466.1 946 465.1 945 463.3Z"/>
<path d="M950.8 445C951.2 445.3 953.1 443.8 953.3 447C953.6 450.2 952.6 461.3 952.5 464.2"/>
<path d="M953.3 447C955.1 445.4 961.8 439.4 964.2 437.7C966.5 435.9 966.9 436.8 967.5 436.7"/>
<ellipse cx="952.8" cy="455.8" rx="0.8" ry="1.7" transform="rotate(20 952.8 455.8)"/>
<ellipse cx="960.8" cy="449.2" rx="0.8" ry="1.3" transform="rotate(20 960.8 449.2)"/>
<ellipse cx="965.8" cy="445" rx="0.8" ry="1.7" transform="rotate(20 965.8 445)"/>
</g>
<!-- 10_p25_bodytop.txt -->
<g>
<path d="M737.5 564.2L759.2 571.7L739.2 651.7L715 645Z"/>
<path d="M737.5 564.2L744.2 556.3L767.5 562.5L759.2 571.7"/>
<path d="M767.5 562.5L766.7 568.3L745 641.7L739.2 651.7"/>
<path d="M759.7 572L766.7 564.7L766 568.7L745.3 641.3L740 650.3Z" style="fill:#1a1a1a"/>
<path d="M744.7 556.7L767 562L766 567L760 570L741.7 564.3Z" style="fill:#1a1a1a"/>
<path d="M737.5 576.7L757.5 582L756.7 588.7L735.8 583.3Z"/>
<path d="M737 579.2L757 585"/>
<path d="M808.3 520L841.7 492.2L876.7 502.5"/>
<path d="M808.3 520L848.3 529.2"/>
<path d="M899.2 482.5L848.3 529.2"/>
<path d="M808.3 520C807.6 521.7 805.6 525.8 804.2 530C802.8 534.2 804.6 525.6 800 545C795.4 564.4 780.4 628.6 776.7 646.7C772.9 664.8 777.5 652.5 777.7 653.7"/>
<path d="M806.7 522.5L778.7 647.7"/>
<path d="M805 530.8L845 539.2"/>
<path d="M848.3 529.2C847.6 531 845 535.4 843.7 540C842.3 544.6 845.1 537.2 840.3 556.7C835.6 576.1 819.7 637.8 815 656.7C810.3 675.6 812.3 665.3 812 670C811.7 674.7 812.6 680.6 813.3 685C814.1 689.4 816.1 694.7 816.7 696.7"/>
<path d="M840.3 556.7L890 568.3"/>
<path d="M776.7 646.7L815 656.7"/>
<path d="M777.7 653.7L816.7 665.8"/>
<path d="M815 656.7L886.7 678.3"/>
<path d="M816.7 665.8L855.8 678.3L856.7 683.7L816.7 681.7"/>
<path d="M936.3 670C935.3 671.7 932.7 677 930 680.3C927.3 683.7 921.7 688.4 920 690"/>
<path d="M935 670C933.9 671.6 931.4 676.4 928.3 679.7C925.3 682.9 918.6 688 916.7 689.7"/>
</g>
<!-- 11_bodytop_right.txt -->
<g>
<path d="M899.3 482.7L945.3 485.3"/>
<path d="M892 495.3L874 510.7"/>
<path d="M874 510.7C873.9 511.1 873 512.6 873.6 513.3C874.2 514.1 876.7 515 877.3 515.3"/>
<path d="M877.3 515.3L904.7 518.8"/>
<path d="M904.7 518.8C904.7 519.3 905.4 520.9 905.1 521.7C904.7 522.6 903.1 523.6 902.7 524"/>
<path d="M902.7 524L891.3 535.6"/>
<path d="M846.7 528.7L891.3 535.6"/>
<path d="M845.3 535.3C848.9 536 860.4 539 866.7 539.3C872.9 539.7 878.6 538 882.7 537.3C886.8 536.7 889.9 535.9 891.3 535.6"/>
<path d="M844 538L840 539.3"/>
<path d="M866.7 539.3L866 551.6L890 556.7"/>
<path d="M840 550L866 553.3"/>
<path d="M841.3 548.7L844 538L846.7 528.7"/>
<path d="M891.3 535.6C891.1 541.1 890.7 557.4 890.1 568.7C889.6 580 888.5 593.1 888 603.3C887.5 613.6 887.2 618.9 887.3 630C887.4 641.1 888.4 663.3 888.7 670"/>
<path d="M891.2 576.7C891 581.1 890.2 594.4 889.9 603.3C889.6 612.2 889.2 618.9 889.3 630C889.4 641.1 890.2 663.3 890.4 670"/>
<path d="M890.7 569.3L905.3 556.7L920 561.7L900.7 580.7L891.3 577.3Z"/>
<path d="M891.3 577.3L891.3 582.7L900 585.7L900.7 580.7"/>
<path d="M900 585.7L918.7 566.3L920 561.7"/>
<ellipse cx="900.7" cy="492" rx="4.8" ry="4.8" style="fill:#1a1a1a"/>
<path d="M892.7 498.7L897.3 500L896.7 505.3L892 504Z"/>
<path d="M895.3 505.3L894.7 515.3"/>
<path d="M898.7 506L898 516"/>
<path d="M888 515.3L890.7 512.7L893.3 516"/>
<path d="M906.7 487.3L909.3 496.7L917.3 491.3L918.7 496.7L920.7 492L920 498.7L912 502"/>
<path d="M945.3 485.3L940 486L932 494L921.3 493.3"/>
<path d="M932 494L941.3 488"/>
<path d="M920 498.7L923.3 502"/>
<path d="M945.3 485.3C945.6 489.4 946.5 494.8 946.7 510C946.8 525.2 946.4 558.9 946.1 576.7C945.9 594.4 945.9 605.6 945.3 616.7C944.8 627.8 944.2 634.4 942.7 643.3C941.2 652.2 937.3 665.6 936.3 670"/>
<path d="M943.5 487.3C943.6 502.2 944.4 554 944.3 576.7C944.2 599.3 943.8 610 942.9 623.3C942 636.7 940.3 648.9 938.9 656.7C937.6 664.4 935.6 667.8 934.9 670"/>
<path d="M923.3 502C922.8 505.1 921.4 513.6 920 520.7C918.6 527.8 916.4 536.7 914.7 544.7C912.9 552.7 911.1 561.1 909.3 568.7C907.6 576.2 905.8 582.4 904 590C902.2 597.6 900.4 607.3 898.7 614C896.9 620.7 894.7 626.6 893.3 630C892 633.4 891.1 633.6 890.7 634.3"/>
<path d="M925.3 498.7L935.3 500L935.3 503.3L924 502Z"/>
<path d="M920 523.3L932 528.7L935.3 528.7L934.9 531.6L932 532L919.3 526.7"/>
<path d="M932 528.7L932 532"/>
<path d="M914.7 548.7L932 555.3L935.3 555.3L934.9 558.3L932 558.7L913.7 552"/>
<path d="M932 555.3L932 558.7"/>
<path d="M909.3 575.3L932 583.3L935.3 583.3L934.9 586.3L932 586.7L908.3 578.7"/>
<path d="M932 583.3L932 586.7"/>
<path d="M903.3 600.7L932 610L935.3 610L934.9 613.3L932 613.7L902.4 604"/>
<path d="M932 610L932 613.7"/>
<path d="M898 620.7L932 631.3L935.3 631.3L934.9 634.7L932 635.3L896.7 624.7"/>
<path d="M932 631.3L932 635.3"/>
<path d="M892 639.3L932 654L935.3 654.7L934.9 658L932 658.3L891.3 643.3"/>
<path d="M932 654L932 658.3"/>
<path d="M890.7 656.7L933.3 670"/>
<path d="M890.9 651.3L914.7 659.3"/>
<path d="M922.7 504.7L943.3 511.3"/>
<path d="M921.3 515.3L943.3 523.3"/>
<path d="M890.7 634C892.2 633.9 896.3 633.9 900 633.5C903.7 633 910.6 631.7 912.7 631.3"/>
<path d="M898.7 634.3C901.3 635.1 910.6 637.4 914.7 639.3C918.8 641.3 923.3 645.3 923.3 646C923.3 646.7 918.6 644.8 914.7 643.3C910.8 641.8 902.4 638 900 636.9"/>
</g>
<!-- 12_body_mid.txt -->
<g>
<path d="M816.7 697.5L828.3 700"/>
<path d="M828.3 700L830.8 695.8L890.8 715L890.8 720"/>
<path d="M835 700.8L888.3 718.3"/>
<path d="M828.3 700C828.8 700.7 831.7 698.6 830.8 704.2C830 709.7 825.4 724.6 823.3 733.3C821.2 742.1 819.6 750.6 818.3 756.7C817.1 762.8 816.2 767.8 815.8 770"/>
<path d="M815.8 770L823.3 773.3L821.7 788.3L825 793.3L820 805L816.7 821.7L820.8 823.3L821.7 831.7L817.5 833.3"/>
<path d="M835 700.8L836.7 723.3L826.7 830L823.3 835"/>
<path d="M837.5 703.3L833.3 740L826.7 786.7"/>
<path d="M823.3 733.3L835 738.3L870 755"/>
<path d="M890.8 720C889.3 720.8 884.3 722.8 881.7 725C879 727.2 876.8 729.7 875 733.3C873.2 736.9 871.8 740 870.8 746.7C869.9 753.3 869.9 764.4 869.2 773.3C868.5 782.2 867.4 793.6 866.7 800C866 806.4 865.3 809.7 865 811.7"/>
<path d="M865 811.7L866.7 813.3L863.3 823.3L856.7 826.7L848.3 825.8L844.2 833.3L845 840"/>
<path d="M904.2 706.7C902.9 708.9 898.6 715.6 896.7 720C894.7 724.4 893.6 727.2 892.5 733.3C891.4 739.4 890.8 747.8 890 756.7C889.2 765.6 888.1 779.4 887.5 786.7C886.9 793.9 887.6 796.9 886.7 800C885.7 803.1 884.2 803.9 881.7 805C879.2 806.1 874.2 805.3 871.7 806.7C869.2 808.1 867.5 812.2 866.7 813.3"/>
<path d="M876.7 738.3L886.7 741.7L885.8 745.8L875 742.5Z"/>
<path d="M874.2 760L885 763.3L884.2 766.7L873.3 763.7Z"/>
<path d="M871.7 781.7L883.3 785L882.5 788.3L870.8 785.3Z"/>
<path d="M881.7 724.2L889.2 725.8"/>
<path d="M845 833.3L865 823.3"/>
<path d="M846.7 839.2L865.8 825.8"/>
<path d="M963.3 701.7C963.9 703.1 966 707.2 966.7 710C967.4 712.8 969.2 715.6 967.5 718.3C965.8 721.1 959.6 723.6 956.7 726.7C953.8 729.7 951.8 732.2 950 736.7C948.2 741.1 947.5 741.7 945.8 753.3C944.2 765 941.2 793.9 940 806.7C938.8 819.4 938.6 826.1 938.3 830"/>
<path d="M971.7 720C969.7 721.7 963.1 726.7 960 730C956.9 733.3 955.1 735.6 953.3 740C951.5 744.4 950.8 745.6 949.2 756.7C947.5 767.8 944.5 792.8 943.3 806.7C942.1 820.6 942.2 834.4 942 840"/>
<path d="M938.3 830L926.7 831.7"/>
<path d="M983.3 733.3C981.4 734.4 974.7 736.7 971.7 740C968.6 743.3 966.7 747.8 965 753.3C963.3 758.9 962.7 760.3 961.7 773.3C960.6 786.4 959.3 818.9 958.7 831.7C958.1 844.4 958.1 846.9 958 850"/>
<path d="M986.7 736.7C985 738.3 979.2 742.8 976.7 746.7C974.2 750.6 972.8 755.6 971.7 760C970.6 764.4 970.3 771.1 970 773.3"/>
<path d="M990 753.3C989.4 755.6 988.3 763.3 986.7 766.7C985 770 983.9 771.7 980 773.3C976.1 775 966.1 776.1 963.3 776.7"/>
<path d="M950 743.3L965 748.3"/>
<path d="M946.7 760L963.3 766.7"/>
<path d="M908.3 802.5L938.3 812.5L937.5 828.3L905 816.7L904.2 808.3Z"/>
<path d="M926.7 831.7L926.7 841.7L955 850.8L968.3 850L980 843.3L986.7 823.3L990 766.7"/>
<ellipse cx="980.3" cy="830.8" rx="1.3" ry="5.8" transform="rotate(5 980.3 830.8)"/>
</g>
<!-- 13_body_low.txt -->
<g>
<path d="M817.5 833.3L805 963.3"/>
<path d="M820 835.8L808.3 980"/>
<path d="M817.5 833.3C817.9 834.2 816.5 836.5 820 838.3C823.5 840.1 834.4 843.3 838.3 844.2C842.2 845 842.5 843.5 843.3 843.3"/>
<path d="M818.3 835.8C818.9 836.7 818.3 839 821.7 840.8C825 842.6 835.6 845.7 838.3 846.7"/>
<path d="M843.3 843.3L840.8 866.7L830 986.7"/>
<path d="M840 845L828.3 981.7"/>
<path d="M824.2 841.7L812.5 980"/>
<path d="M828.3 842.5L816.7 980"/>
<path d="M836.7 846.7L823.3 980"/>
<path d="M821.7 848.3L838.3 853.3"/>
<path d="M821.7 850.3L838.3 855.3"/>
<path d="M820.8 866.7L837.5 873.3"/>
<path d="M820.8 868.7L837.5 875.3"/>
<path d="M819.2 888.3L835 895.8"/>
<path d="M819.2 890.3L835 897.8"/>
<path d="M810.8 905C811.8 905.8 812.9 907.8 816.7 910C820.4 912.2 830.6 916.9 833.3 918.3"/>
<path d="M810.8 907C811.8 907.8 812.9 909.8 816.7 912C820.4 914.2 830.6 918.9 833.3 920.3"/>
<path d="M808.3 928.3C809.3 929 810.3 930.6 814.2 932.5C818.1 934.4 828.8 938.8 831.7 940"/>
<path d="M808.3 930.3C809.3 931 810.3 932.6 814.2 934.5C818.1 936.4 828.8 940.8 831.7 942"/>
<path d="M811.7 951.7L828.3 958.3"/>
<path d="M811.7 953.7L828.3 960.3"/>
<path d="M817.5 915C816.7 915 816.2 921.1 816.7 923.3C817.1 925.6 819.2 928.3 820 928.3C820.8 928.3 822.1 925.6 821.7 923.3C821.2 921.1 818.3 915 817.5 915Z"/>
<path d="M780.8 981.7L783.3 975L790 973.3L789.2 970L793.3 965L800 965L800.8 958.3L805 956.7"/>
<path d="M780.8 981.7L785.8 985.8L830 989.2L833.3 983.3L832.5 973.3L826.7 971.7L823.3 976.7L822.5 981.7L808.3 980"/>
<path d="M783.3 975L821.7 981.7"/>
<path d="M790 973.3L806.7 976.7"/>
<path d="M793.3 965L806.7 968.3"/>
<path d="M823.3 976.7L830 978.3L832.5 973.3"/>
<path d="M800 965L803.3 966.7L803.7 960"/>
<path d="M845 841.7C846.4 842.6 849.7 846.3 853.3 847.5C856.9 848.7 862.2 849.1 866.7 848.7C871.1 848.2 877 846.4 880 845C883 843.6 884.7 841.8 884.7 840C884.7 838.2 883 835.7 880 834.2C877 832.6 868.9 831.4 866.7 830.8"/>
<path d="M884.7 840L872.5 983.3"/>
<path d="M844.2 843.3L832.5 986.7"/>
<path d="M830 989.2C832.2 989.6 838.3 991.6 843.3 992C848.3 992.4 855.6 992.1 860 991.3C864.4 990.6 867.9 988.8 870 987.5C872.1 986.2 872.1 984 872.5 983.3"/>
<path d="M845 841.7L845 830L850 825L858.3 825.3L865 821.7L866.7 810"/>
<path d="M845.8 840.8L865 825"/>
<path d="M848.3 841.7L866.7 826.7L865.8 830.8"/>
<path d="M820 800L818.3 806.7L823.3 808.3L821.7 816.7L817.5 815.8L816.7 825L821.7 825.8L820.8 832.5"/>
<path d="M825 800L820 835.8"/>
<path d="M830 800L824.2 841.7"/>
<path d="M926.7 831.7C926 833.1 923.9 831.4 922.5 840C921.1 848.6 920.4 861.7 918.3 883.3C916.2 905 911.5 951.5 910 970C908.5 988.5 909.3 990.1 909.2 994.2"/>
<path d="M927 841.7L915 968.3"/>
<path d="M951.7 850L941.7 981.7"/>
<path d="M955.8 850L945 981.7"/>
<path d="M958 850L955 890"/>
<path d="M966.7 850C966.7 851.7 966.9 854.4 966.7 860C966.4 865.6 966.4 865.6 965 883.3C963.6 901.1 959.7 951.4 958.3 966.7C956.9 981.9 956.9 973.6 956.7 975"/>
<path d="M923.3 866.7C925.8 867.4 933.1 870 938.3 870.8C943.6 871.7 950.4 872.4 955 871.7C959.6 871 964 867.5 965.8 866.7"/>
<path d="M923.3 869C925.8 869.7 933.1 872.3 938.3 873.2C943.6 874 950.4 874.7 955 874C959.6 873.3 964 869.8 965.8 869"/>
<path d="M921.7 888.3C924.2 889 931.4 891.8 936.7 892.5C941.9 893.2 948.8 893.2 953.3 892.5C957.9 891.8 962.4 889 964.2 888.3"/>
<path d="M921.7 890.7C924.2 891.4 931.4 894.1 936.7 894.8C941.9 895.5 948.8 895.5 953.3 894.8C957.9 894.1 962.4 891.4 964.2 890.7"/>
<path d="M919.2 910.8C921.8 911.5 929.6 914.3 935 915C940.4 915.7 947.2 915.7 951.7 915C956.1 914.3 960 911.5 961.7 910.8"/>
<path d="M919.2 913.2C921.8 913.9 929.6 916.6 935 917.3C940.4 918 947.2 918 951.7 917.3C956.1 916.6 960 913.9 961.7 913.2"/>
<path d="M917.5 932.5C920.1 933.2 927.9 936 933.3 936.7C938.8 937.4 945.6 937.4 950 936.7C954.4 936 958.1 933.2 959.7 932.5"/>
<path d="M917.5 934.8C920.1 935.5 927.9 938.3 933.3 939C938.8 939.7 945.6 939.7 950 939C954.4 938.3 958.1 935.5 959.7 934.8"/>
<path d="M915.8 954.2C918.5 954.9 926.2 957.6 931.7 958.3C937.1 959 944 959 948.3 958.3C952.6 957.6 956 954.9 957.5 954.2"/>
<path d="M915.8 956.5C918.5 957.2 926.2 960 931.7 960.7C937.1 961.4 944 961.4 948.3 960.7C952.6 960 956 957.2 957.5 956.5"/>
<path d="M914.2 970C916.8 970.7 924.6 973.5 930 974.2C935.4 974.9 942.4 974.9 946.7 974.2C951 973.5 954.3 970.7 955.8 970"/>
<path d="M914.2 972.3C916.8 973 924.6 975.8 930 976.5C935.4 977.2 942.4 977.2 946.7 976.5C951 975.8 954.3 973 955.8 972.3"/>
<path d="M896.7 980.8L900 975.8L926.7 983.3L928.3 975"/>
<path d="M896.7 980.8L900.8 984.2L940 994.2L950 995L953.3 990.8"/>
<path d="M953.3 990.8C955.6 989.9 963.3 987.4 966.7 985C970 982.6 972.1 978.9 973.3 976.7C974.6 974.4 975.6 973.3 974.2 971.7C972.8 970 967.6 967.8 965 966.7C962.4 965.6 959.4 965.3 958.3 965"/>
<path d="M909.2 994.2L921.7 993.3L926.7 983.3"/>
<path d="M898.3 978.3L925 985.8"/>
<ellipse cx="949.2" cy="989.2" rx="2.5" ry="1.3" transform="rotate(-10 949.2 989.2)"/>
<ellipse cx="967.5" cy="971.3" rx="2" ry="1" transform="rotate(-10 967.5 971.3)"/>
<path d="M928.3 975L940 978.3L941.7 981.7"/>
<path d="M941.7 800L940 830"/>
<path d="M944.2 800L942 830"/>
</g>
<!-- 14_p3.txt -->
<g>
<path d="M1013.3 494.7C1014.1 494 1016.1 490.8 1018 490.7C1019.9 490.6 1023.2 492.6 1024.7 494C1026.1 495.4 1026.3 498.4 1026.7 499.3"/>
<path d="M1026.7 499.3C1026.8 505.6 1027.5 519.3 1027.5 536.7C1027.5 554 1027 585.6 1026.7 603.3C1026.4 621.1 1026.2 632.2 1025.6 643.3C1025 654.4 1023.7 665.6 1023.3 670"/>
<path d="M1013.3 494.7L976 524.7L973.3 532.7L968.7 534L964.7 542"/>
<path d="M1014.7 498.7L980 526.7L978.7 532.7L973.3 534"/>
<path d="M1018.7 501.3L979.3 535.3L972 542.7"/>
<path d="M1018 490.7L1019.3 494.7L1018.7 501.3"/>
<path d="M1024.7 494L1019.3 494.7"/>
<path d="M964.7 542L957.3 544.7"/>
<path d="M957.3 544.7C956.8 545.6 954.8 548 954 550C953.2 552 952.6 555.1 952.7 556.7C952.8 558.2 953.8 558.7 954.7 559.3C955.6 560 957.4 560.4 958 560.7"/>
<path d="M958 560.7L958 568.7L965.3 571.3L964.7 574"/>
<path d="M964.7 542L966.7 550L957.6 670"/>
<path d="M972 542.7L971.3 552.7L965.6 670"/>
<path d="M973.3 544.7L969.6 670"/>
<path d="M977.3 546L976.3 670"/>
<path d="M1018.7 501.3L1018.4 550"/>
<path d="M1016.3 552L1016 616.7"/>
<path d="M1010 510L1009.6 555.3"/>
<path d="M1001.3 518.7L1010 510"/>
<path d="M1001.3 518.7L1001.3 554L1006.7 557.3L1016 550L1016.7 552L1012 556.7L1012 613.3L1000 623.3L999.3 646"/>
<path d="M1006.7 557.3L1006.9 562"/>
<ellipse cx="1015.3" cy="516" rx="1.6" ry="4" transform="rotate(5 1015.3 516)"/>
<ellipse cx="1018.7" cy="659.3" rx="1.9" ry="5.3" transform="rotate(5 1018.7 659.3)"/>
<path d="M1012 613.3L1017.3 616.7L1007.3 625.3L1000 623.3"/>
<path d="M1007.3 625.3L1006.7 646"/>
<path d="M1017.3 616.7L1016.7 639.3L1008 647.3L1013.3 650L1024.7 640.7"/>
<path d="M1008 647.3L1007.3 670"/>
<path d="M1008 569.3L1012 568.7"/>
<path d="M1008 572L1012 572"/>
<path d="M1008 592L1012 591.3"/>
<path d="M1008 594.7L1012 594.7"/>
<path d="M977.3 636.7L998.7 643.3"/>
<path d="M977.3 654L1006.7 663.3"/>
<path d="M957.3 670L956.7 686.7L961.3 690.7L960.7 698.7L966.7 716L966 719.3"/>
<path d="M965.3 670L966 706.7"/>
<path d="M969.6 670C970 672.6 971.4 680.1 972 685.3C972.6 690.6 972 694.9 973.3 701.3C974.7 707.8 977.8 717.6 980 724C982.2 730.4 984.7 736.6 986.7 740C988.7 743.4 990 744.5 992 744.3C994 744 996.4 741.6 998.7 738.7C1000.9 735.7 1002.9 734.2 1005.3 726.7C1007.8 719.1 1010.9 702.9 1013.3 693.3C1015.8 683.8 1018 677.1 1020 669.3C1022 661.6 1024.2 653.8 1025.3 646.7C1026.4 639.6 1026.4 630 1026.7 626.7"/>
<path d="M976.3 670L976.7 680"/>
<path d="M956.7 680L962.7 682.7L965.6 681.3"/>
<path d="M976.7 637.3L999.3 644"/>
<path d="M976.7 653.3L1000 662.7L1010.7 665.3"/>
<path d="M1000 622L1010.7 612.7L1015.3 616.7L1006.7 624.7Z"/>
<path d="M1000 622C999.9 629 1000 655.7 999.3 664C998.7 672.3 998.8 668.7 996 672C993.2 675.3 984.9 682 982.7 684"/>
<path d="M1006.7 624.7C1006.7 631.2 1007.1 655.7 1006.7 664C1006.2 672.3 1007.6 670.2 1004 674.7C1000.4 679.1 988.4 688 985.3 690.7"/>
<path d="M1008 646.7L1018.7 638.7L1025.3 641.3L1014 649.3Z"/>
<path d="M1018.7 638.7L1018.1 626.7"/>
<path d="M1014 649.3C1013.9 652.2 1014.1 661.6 1013.3 666.7C1012.6 671.8 1010 677.8 1009.3 680"/>
<path d="M972.7 685.3L978.7 676.7L982 678.7L982.7 693.3L985.3 700.7L1009.3 680"/>
<path d="M972.7 685.3L973.3 693.3"/>
<ellipse cx="1018.7" cy="659.3" rx="2" ry="6" transform="rotate(5 1018.7 659.3)"/>
<ellipse cx="1014" cy="685.3" rx="2" ry="6.7" transform="rotate(8 1014 685.3)"/>
<ellipse cx="998" cy="700" rx="1.6" ry="5.3" transform="rotate(8 998 700)"/>
<ellipse cx="977.3" cy="696.7" rx="1.6" ry="5.3" transform="rotate(5 977.3 696.7)"/>
<ellipse cx="982" cy="713.3" rx="2" ry="6.7" transform="rotate(8 982 713.3)"/>
<path d="M925.3 674.7L942.7 675.3L956.7 680"/>
<path d="M942.7 675.3L942 677.3L956.7 682"/>
<path d="M922.7 686.7L952 696.7L961.3 700"/>
<path d="M925.3 674.7C924.8 675.6 922.4 678 922 680C921.6 682 922.6 685.6 922.7 686.7"/>
<path d="M922.7 686.7C921.1 687.8 916.2 690.9 913.3 693.3C910.4 695.8 907.6 698 905.3 701.3C903.1 704.7 900.9 711.3 900 713.3"/>
<path d="M900 658.7L933.3 670.7"/>
<path d="M900 666.7L922.7 676"/>
<path d="M900 674.7L920 681.3"/>
<path d="M900 685.3L913.3 689.3"/>
<path d="M993.3 745.3C992.4 746.7 989.3 749.8 988 753.3C986.7 756.9 986.2 758.9 985.3 766.7C984.4 774.4 983.1 794.4 982.7 800"/>
<path d="M966 719.3C964.8 720.1 961 721.7 958.7 724C956.3 726.3 953.1 731.8 952 733.3"/>
</g>
<!-- 15_body_junction.txt -->
<g>
<path d="M776.5 648L776 651L778.5 654.5"/>
<path d="M813 679L891 701.5"/>
<path d="M815.5 690L829 694.5"/>
<path d="M816 699L828.5 702.5"/>
<path d="M828.5 702.5L830 696L834 696.5L832.5 703L829 705"/>
<path d="M819 681.2C818.6 681.8 817.3 683.7 816.5 685C815.7 686.3 814.4 688.3 814 689"/>
<path d="M888.7 670C888.6 671.7 888.2 675 888.2 680C888.2 685 888.5 695.3 889 700C889.5 704.7 890.9 705.3 891.5 708C892.1 710.7 892.3 714.7 892.5 716"/>
<path d="M889.8 670C889.8 671.7 889.5 675.2 889.6 680C889.7 684.8 889.8 694.3 890.5 699C891.2 703.7 893.4 705.5 894 708C894.6 710.5 894 713 894 714"/>
<path d="M857 677.5L870 677.6L888 680.6"/>
<path d="M920 690C918.3 691.3 912.7 695.5 910 698C907.3 700.5 905.8 702.2 904 705C902.2 707.8 900.6 710.8 899 715C897.4 719.2 895.2 727.5 894.5 730"/>
<path d="M906 703C905.5 704.2 904.7 707.2 903 710C901.3 712.8 897.7 715.8 896 720C894.3 724.2 893.5 732.5 893 735"/>
<path d="M890 681L915 689L913 691.5L908 691L890 685"/>
<path d="M891 674L920 684"/>
<path d="M890 677.5L920 687.2"/>
<path d="M893 697L904 700L903 703L894 701Z"/>
<path d="M894 705L901 707L900 710L895 708.5Z"/>
<path d="M891 672L920 681"/>
<path d="M903 705L905.5 703L905 708L903 710.5"/>
<path d="M878.5 731.5L892 736"/>
<path d="M824 734L832.5 737.5"/>
<path d="M836 744L870 756"/>
</g>
<!-- 16_p27_28_6.txt -->
<g>
<path d="M1072.5 554.2L1125.8 507L1124.7 649.2L1072.5 694.7Z"/>
<path d="M1066.7 552.5L1065 694.2L1072.5 694.7"/>
<path d="M1066.7 552.5L1072.5 554.2"/>
<path d="M1066.7 552.5L1118.3 506.3L1125.8 507"/>
<path d="M1075.3 565L1122.5 524.2L1121.7 641.7L1075 684.2Z"/>
<path d="M1077 567L1121 528L1120.3 640"/>
<path d="M1067.5 543.3L1099.2 515L1111.7 515.8L1118.3 506.7"/>
<path d="M1067.5 543.3L1066.7 552.5"/>
<path d="M1067.5 543.3L1073.3 540.8L1085.8 540.8L1111.7 515.8"/>
<path d="M1073.3 540.8L1072.7 554.2"/>
<path d="M1085.8 540.8L1084.2 545"/>
<path d="M1066.7 552.5L1055.8 590L1065.8 581.7"/>
<path d="M1065.8 583.3L1055 623.3L1065.8 614.2"/>
<path d="M1072.5 694.7L1078.3 689.2L1123.3 650.8L1126.7 651.7"/>
<path d="M1078 687.2L1122.5 649.3"/>
<path d="M1079.7 691.2L1125 653"/>
<path d="M1126.7 651.7C1126.9 652.5 1128 653.1 1127.8 656.7C1127.7 660.3 1127.4 667.8 1125.8 673.3C1124.2 678.9 1120.1 684.4 1118.3 690C1116.5 695.6 1116.4 701.1 1115 706.7C1113.6 712.2 1113.3 718.3 1110 723.3C1106.7 728.3 1098 733.9 1095 736.7C1092 739.4 1092.5 739.4 1092 740"/>
<path d="M1078.3 689.2C1078.1 690.1 1077 691.5 1076.7 695C1076.3 698.5 1075.8 706.7 1076.3 710C1076.9 713.3 1079.4 714.2 1080 715"/>
<path d="M1080 715L1087.5 715.8"/>
<path d="M1087.5 715.8C1087.7 716.5 1088.7 717.6 1088.7 720C1088.7 722.4 1087.3 727.2 1087.5 730C1087.7 732.8 1089 735 1090 736.7C1091 738.3 1092.8 739.4 1093.3 740"/>
<path d="M1080.3 690.8C1080.1 691.7 1079 692.8 1078.7 695.8C1078.3 698.9 1077.9 706.2 1078.3 709.2C1078.8 712.1 1080.8 712.6 1081.3 713.3"/>
<path d="M1089.7 716.7L1090 730L1092 735.8"/>
<ellipse cx="1121.7" cy="668.7" rx="1.3" ry="2" transform="rotate(10 1121.7 668.7)"/>
<ellipse cx="1103.7" cy="688.3" rx="1.3" ry="2" transform="rotate(10 1103.7 688.3)"/>
<ellipse cx="1112.3" cy="693.7" rx="1.2" ry="1.8" transform="rotate(10 1112.3 693.7)"/>
<ellipse cx="1085.8" cy="701.3" rx="1.3" ry="2" transform="rotate(10 1085.8 701.3)"/>
<ellipse cx="1095" cy="709.7" rx="1.3" ry="2" transform="rotate(10 1095 709.7)"/>
<ellipse cx="1103.7" cy="715.8" rx="1.3" ry="2" transform="rotate(10 1103.7 715.8)"/>
<path d="M1134.2 573.3L1186.3 528L1187.5 528.3L1186.7 653.3L1136.7 698.3L1133.3 699.7Z"/>
<path d="M1136.7 574.2L1135.8 698.3"/>
<path d="M1136.7 574.2L1187.5 528.7"/>
</g>
<!-- 17_p4_head.txt -->
<g>
<path d="M1271.7 500C1268.6 502.4 1260.3 507.5 1253.3 514.2C1246.4 520.8 1235.4 532.9 1230 540C1224.6 547.1 1223.1 550.3 1220.8 556.7C1218.6 563.1 1217.6 570 1216.7 578.3C1215.7 586.7 1215.4 596.9 1215 606.7C1214.6 616.4 1214.4 631.7 1214.3 636.7"/>
<path d="M1273.3 506.7C1270.4 509 1262.5 514.4 1255.8 520.8C1249.2 527.2 1238.8 537.9 1233.3 545C1227.9 552.1 1225.6 557.5 1223.3 563.3C1221.1 569.2 1220.8 572.8 1220 580C1219.2 587.2 1218.7 597.2 1218.3 606.7C1218 616.1 1217.9 631.7 1217.8 636.7"/>
<path d="M1271.7 500L1298.3 510.8"/>
<path d="M1298.3 510.8C1299.4 512.4 1303.5 516.5 1305 520C1306.5 523.5 1307.2 527.5 1307.5 531.7C1307.8 535.8 1307.1 542.8 1307 545"/>
<path d="M1298.3 510.8C1295.8 512.4 1288.3 516.2 1283.3 520C1278.3 523.8 1272.8 528.3 1268.3 533.3C1263.9 538.3 1259.7 544.2 1256.7 550C1253.6 555.8 1251.5 562.2 1250 568.3C1248.5 574.4 1248.2 577.5 1247.5 586.7C1246.8 595.8 1246.1 615 1245.8 623.3C1245.5 631.7 1245.7 634.4 1245.7 636.7"/>
<path d="M1296.7 515C1294.3 516.4 1286.9 519.9 1282.5 523.3C1278.1 526.8 1273.9 531.1 1270 535.8C1266.1 540.6 1262.1 546 1259.2 551.7C1256.2 557.4 1254 563.9 1252.5 570C1251 576.1 1250.7 579.4 1250 588.3C1249.3 597.2 1248.6 615.3 1248.3 623.3C1248 631.4 1248.2 634.4 1248.2 636.7"/>
<path d="M1295.3 517.5C1293 518.8 1285.3 522.1 1281.3 525.3C1277.3 528.6 1274.7 532.4 1271.3 537C1268 541.6 1264.1 547 1261.3 552.7C1258.6 558.3 1256.2 564.9 1254.7 571C1253.2 577.1 1252.7 586.3 1252.3 589.3"/>
<path d="M1253.3 514.2L1276.7 522.5"/>
<path d="M1230 540L1255.8 549.2"/>
<path d="M1216.7 578.3L1248.3 585.8"/>
<path d="M1223.3 546.7C1222.8 547.8 1220.8 550.6 1220 553.3C1219.2 556.1 1218.6 561.7 1218.3 563.3"/>
<path d="M1252.5 565.8L1283.3 538.3L1283.3 665L1248.3 694.2"/>
<path d="M1255 570L1280.8 547.5L1280.8 663.3L1250 690"/>
<path d="M1272.5 550.8L1273 661.7L1280 664.2"/>
<path d="M1273 661.7L1250 681.7"/>
<path d="M1252.5 565.8L1252 590"/>
<path d="M1284.2 525.8L1285 660"/>
<path d="M1290 528.3L1290.3 640"/>
<path d="M1283.3 538.3C1283.5 536.2 1283.1 527.6 1284.2 525.8C1285.3 524 1289 527.2 1290 527.5"/>
<path d="M1290 527.5L1306.7 530L1308.3 545"/>
<path d="M1307.5 583.3C1307.8 592.8 1309.1 627.2 1309.2 640C1309.2 652.8 1307.9 656.7 1307.7 660"/>
<path d="M1291.7 641.7L1306.7 645"/>
<path d="M1291.7 651.7L1305.8 655"/>
<path d="M1292.5 658.3L1305 661.7"/>
<path d="M1291.7 588.3L1307.5 583.3"/>
<path d="M1214.2 635C1214.2 645.8 1213.9 684.2 1214 700C1214.1 715.8 1214.5 723.3 1215 730C1215.5 736.7 1216.2 737 1217 740C1217.8 743 1219.3 745.5 1220 748C1220.7 750.5 1221.1 753.2 1221 755C1220.9 756.8 1219.8 758.3 1219.5 759"/>
<path d="M1218 635C1217.9 645.2 1217.5 679.3 1217.5 696C1217.5 712.7 1217.4 726 1218 735C1218.6 744 1220.5 747.5 1221 750"/>
<path d="M1217.5 696L1246 700"/>
<path d="M1217.5 712L1246 716"/>
<path d="M1217.5 714L1246 717.2"/>
<path d="M1218 735L1245 736.5"/>
<path d="M1221 750L1246 752.5"/>
<path d="M1245.2 635C1245.2 639.2 1245.4 649.2 1245.5 660C1245.6 670.8 1246.1 688.3 1246 700C1245.9 711.7 1245.1 723.3 1245 730C1244.9 736.7 1244.7 735.8 1245.5 740C1246.3 744.2 1247.9 749.7 1250 755C1252.1 760.3 1256 767.8 1258 772C1260 776.2 1261.5 778.7 1262.2 780"/>
<path d="M1247.8 635C1247.9 644.2 1248.5 675.8 1248.5 690C1248.5 704.2 1247.6 712 1247.5 720C1247.4 728 1247.2 732.5 1248 738C1248.8 743.5 1250 747.8 1252 753C1254 758.2 1257.8 764.8 1260 769C1262.2 773.2 1264.3 776.5 1265.2 778"/>
<path d="M1248 685.5L1273 664L1282 664.5"/>
<path d="M1248.5 691L1278 667"/>
<path d="M1278 667C1278.4 667.1 1279.9 667 1280.5 667.5C1281.1 668 1281.3 669.6 1281.5 670"/>
<path d="M1249 688L1276 665.2"/>
<path d="M1248.5 694L1255.5 689L1256.5 710L1247 720Z"/>
<path d="M1273 635L1272 664"/>
<path d="M1278 635L1278 664"/>
<path d="M1282 635C1282.1 640 1282.5 658.8 1282.5 665C1282.5 671.2 1282 667.8 1282 672C1282 676.2 1282.4 687 1282.5 690"/>
<path d="M1284.5 635L1284.5 690"/>
<path d="M1284.5 690C1284.6 698 1285.7 727.2 1285 738C1284.3 748.8 1282.5 749.8 1280.5 755C1278.5 760.2 1276.1 765.2 1273 769C1269.9 772.8 1265 776.7 1262 778C1259 779.3 1256.2 777.2 1255 777"/>
<path d="M1275 677C1275 678.5 1275.3 683.2 1275 686C1274.7 688.8 1274.3 690.5 1273 694C1271.7 697.5 1268.4 703.8 1267 707C1265.6 710.2 1265.1 710 1264.5 713C1263.9 716 1264 720.8 1263.5 725C1263 729.2 1262.4 734.5 1261.5 738C1260.6 741.5 1259.8 743.5 1258 746C1256.2 748.5 1252.2 751.8 1251 753"/>
<path d="M1281.5 670C1281.5 672.7 1281.8 681.7 1281.5 686C1281.2 690.3 1281.6 691.3 1280 696C1278.4 700.7 1273.7 709 1272 714C1270.3 719 1270.8 721.7 1270 726C1269.2 730.3 1268 736.2 1267 740C1266 743.8 1266.2 745.7 1264 749C1261.8 752.3 1255.7 758.2 1254 760"/>
<path d="M1275 677L1281.2 674"/>
<path d="M1275 686L1281.5 688"/>
<path d="M1273.5 694L1279.5 697"/>
<path d="M1267 707L1273 710"/>
<path d="M1264.5 713L1271 715"/>
<path d="M1264 720L1270 721"/>
<path d="M1263.5 725L1270 726"/>
<path d="M1262 733L1268.5 735"/>
<path d="M1260 741L1266 744"/>
<path d="M1258 746L1265 748"/>
<path d="M1282.5 690C1281.8 694.2 1279.6 708.3 1278 715C1276.4 721.7 1274.5 725.5 1273 730C1271.5 734.5 1270.2 738.3 1269 742C1267.8 745.7 1268.2 748.7 1266 752C1263.8 755.3 1258 760 1256 762C1254 764 1254.3 763.7 1254 764"/>
<path d="M1270 744L1280 750"/>
<path d="M1266 753L1274 760"/>
<path d="M1260 760L1266 769"/>
<path d="M1255 763L1260 774"/>
<path d="M1251 753L1254 760"/>
<path d="M1252 760L1258 774L1262 778"/>
<path d="M1254 757L1263 749.5"/>
<path d="M1255 758.5L1263.8 751"/>
<path d="M1220 756.7C1218.1 758.1 1211.4 761.7 1208.3 765C1205.3 768.3 1203.5 771.9 1201.7 776.7C1199.9 781.4 1198.8 782.2 1197.5 793.3C1196.2 804.4 1194.7 826.7 1193.7 843.3C1192.6 860 1191.7 885 1191.3 893.3"/>
<path d="M1220 760C1221.7 760.7 1226.1 761.9 1230 764.2C1233.9 766.4 1239.4 770.4 1243.3 773.3C1247.2 776.2 1251.7 780.3 1253.3 781.7"/>
<path d="M1255.8 782.5C1254.9 784 1251.5 787.1 1250 791.7C1248.5 796.2 1247.5 804.2 1246.7 810C1245.8 815.8 1245.6 818.3 1245 826.7C1244.4 835 1243.8 846.1 1243 860C1242.2 873.9 1240.5 901.7 1240 910"/>
<path d="M1245 776.7C1243.6 777.5 1238.9 779.2 1236.7 781.7C1234.4 784.2 1232.8 787.8 1231.7 791.7C1230.6 795.6 1230.4 802.1 1230 805C1229.6 807.9 1229.3 808.5 1229.2 809.2"/>
<path d="M1200 806.7C1202.5 807.4 1210 810.4 1215 810.8C1220 811.2 1225.6 810.4 1230 809.2C1234.4 807.9 1238.8 805.4 1241.7 803.3C1244.6 801.2 1246.5 797.8 1247.5 796.7"/>
<path d="M1211.7 768.3C1210.7 770.3 1207.4 775.8 1205.8 780C1204.3 784.2 1203.6 785.6 1202.5 793.3C1201.4 801.1 1200.4 807.2 1199.2 826.7C1197.9 846.1 1195.7 896.1 1195 910"/>
</g>
<!-- 18_p4_grip.txt -->
<g>
<path d="M1191.3 893C1190.8 901.9 1189.7 930.8 1188.3 946.7C1187 962.6 1185.3 978.6 1183.3 988.3C1181.4 998.1 1178.5 996.4 1176.7 1005C1174.9 1013.6 1173.2 1034.2 1172.5 1040"/>
<path d="M1195.3 900C1194.7 907.8 1193.1 931.9 1191.7 946.7C1190.2 961.4 1188.8 977.8 1186.7 988.3C1184.6 998.9 1180.7 1001.5 1179.2 1010C1177.6 1018.5 1177.8 1034.3 1177.5 1039.2"/>
<path d="M1246.7 830C1246.1 838.3 1245 860.6 1243.3 880C1241.7 899.4 1238.5 930.6 1236.7 946.7C1234.9 962.8 1232.5 970.6 1232.5 976.7C1232.5 982.8 1235.8 981.4 1236.7 983.3C1237.5 985.3 1237.9 986.4 1237.5 988.3C1237.1 990.3 1234.7 993.9 1234.2 995"/>
<path d="M1234.2 995L1228.3 1028.3L1227.5 1031.7L1215 1042.5L1210 1043.3L1211.7 1035L1215.8 1006.7"/>
<path d="M1244.2 830C1243.6 838.3 1242.6 860.6 1240.8 880C1239 899.4 1235.3 930 1233.3 946.7C1231.4 963.3 1229.4 972.8 1229.2 980C1228.9 987.2 1231.2 988.3 1231.7 990"/>
<path d="M1183.3 988.3C1186.1 988.6 1194.4 990.3 1200 990C1205.6 989.7 1211.4 988.3 1216.7 986.7C1221.9 985 1229.2 981.1 1231.7 980"/>
<path d="M1183.3 990.8C1186.1 991.1 1194.3 992.8 1200 992.5C1205.7 992.2 1212.5 990.6 1217.5 989.2C1222.5 987.8 1227.9 985 1230 984.2"/>
<path d="M1178.3 1010C1181.9 1009.6 1193.1 1008.9 1200 1007.5C1206.9 1006.1 1214.3 1003.8 1220 1001.7C1225.7 999.6 1231.8 996.1 1234.2 995"/>
<path d="M1178.3 1013.3C1181.9 1012.9 1193.1 1012.4 1200 1010.8C1206.9 1009.3 1214.4 1006.4 1220 1004.2C1225.6 1001.9 1231.1 998.6 1233.3 997.5"/>
<path d="M1172.5 1040C1175.1 1040.1 1183.2 1040.8 1188.3 1040.3C1193.5 1039.9 1199.6 1038.4 1203.3 1037.5C1207.1 1036.6 1209.6 1035.4 1210.8 1035"/>
<path d="M1220 1005L1215.8 1038.3"/>
<path d="M1224.2 1003.3L1220 1035"/>
<path d="M1229.2 1000L1225 1030"/>
<path d="M1215.8 1038.3L1226.7 1029.2L1227.5 1032.5"/>
<path d="M1176.7 1005L1179.2 1010"/>
<path d="M1175 1023.3L1178 1024.2"/>
<path d="M1245.3 830C1243 831 1234 834.7 1231.3 836C1228.7 837.3 1229.6 837.3 1229.3 838C1229.1 838.7 1229.6 839.7 1230 840C1230.4 840.3 1229.4 840.7 1232 839.7C1234.6 838.6 1243.1 834.7 1245.3 833.7"/>
<path d="M1244.3 840.8C1242 841.8 1233 845.5 1230.3 846.8C1227.7 848.2 1228.6 848.2 1228.3 848.8C1228.1 849.5 1228.6 850.6 1229 850.8C1229.4 851.1 1228.4 851.6 1231 850.5C1233.6 849.4 1242.1 845.5 1244.3 844.5"/>
<path d="M1243.3 851.7C1241 852.7 1232 856.3 1229.3 857.7C1226.7 859 1227.6 859 1227.3 859.7C1227.1 860.3 1227.6 861.4 1228 861.7C1228.4 861.9 1227.4 862.4 1230 861.3C1232.6 860.3 1241.1 856.3 1243.3 855.3"/>
<path d="M1242.3 862.7C1240 863.7 1231 867.3 1228.3 868.7C1225.7 870 1226.6 870 1226.3 870.7C1226.1 871.3 1226.6 872.4 1227 872.7C1227.4 872.9 1226.4 873.4 1229 872.3C1231.6 871.3 1240.1 867.3 1242.3 866.3"/>
<path d="M1241.3 873.5C1239 874.5 1230 878.2 1227.3 879.5C1224.7 880.8 1225.6 880.8 1225.3 881.5C1225.1 882.2 1225.6 883.2 1226 883.5C1226.4 883.8 1225.4 884.2 1228 883.2C1230.6 882.1 1239.1 878.2 1241.3 877.2"/>
<path d="M1240.3 884.5C1238 885.5 1229 889.2 1226.3 890.5C1223.7 891.8 1224.6 891.8 1224.3 892.5C1224.1 893.2 1224.6 894.2 1225 894.5C1225.4 894.8 1224.4 895.2 1227 894.2C1229.6 893.1 1238.1 889.2 1240.3 888.2"/>
<path d="M1239.3 895.3C1237 896.3 1228 900 1225.3 901.3C1222.7 902.7 1223.6 902.7 1223.3 903.3C1223.1 904 1223.6 905.1 1224 905.3C1224.4 905.6 1223.4 906.1 1226 905C1228.6 903.9 1237.1 900 1239.3 899"/>
<path d="M1238.3 906.2C1236 907.2 1227 910.8 1224.3 912.2C1221.7 913.5 1222.6 913.5 1222.3 914.2C1222.1 914.8 1222.6 915.9 1223 916.2C1223.4 916.4 1222.4 916.9 1225 915.8C1227.6 914.8 1236.1 910.8 1238.3 909.8"/>
<path d="M1237.3 917.2C1235 918.2 1226 921.8 1223.3 923.2C1220.7 924.5 1221.6 924.5 1221.3 925.2C1221.1 925.8 1221.6 926.9 1222 927.2C1222.4 927.4 1221.4 927.9 1224 926.8C1226.6 925.8 1235.1 921.8 1237.3 920.8"/>
<path d="M1236.3 928C1234 929 1225 932.7 1222.3 934C1219.7 935.3 1220.6 935.3 1220.3 936C1220.1 936.7 1220.6 937.7 1221 938C1221.4 938.3 1220.4 938.7 1223 937.7C1225.6 936.6 1234.1 932.7 1236.3 931.7"/>
<path d="M1235.3 939C1233 940 1224 943.7 1221.3 945C1218.7 946.3 1219.6 946.3 1219.3 947C1219.1 947.7 1219.6 948.7 1220 949C1220.4 949.3 1219.4 949.7 1222 948.7C1224.6 947.6 1233.1 943.7 1235.3 942.7"/>
<path d="M1234.3 949.8C1232 950.8 1223 954.5 1220.3 955.8C1217.7 957.2 1218.6 957.2 1218.3 957.8C1218.1 958.5 1218.6 959.6 1219 959.8C1219.4 960.1 1218.4 960.6 1221 959.5C1223.6 958.4 1232.1 954.5 1234.3 953.5"/>
<path d="M1233.3 960.7C1231 961.7 1222 965.3 1219.3 966.7C1216.7 968 1217.6 968 1217.3 968.7C1217.1 969.3 1217.6 970.4 1218 970.7C1218.4 970.9 1217.4 971.4 1220 970.3C1222.6 969.3 1231.1 965.3 1233.3 964.3"/>
</g>
<!-- 19_p5_7_13.txt -->
<g>
<path d="M1335 522.5C1335.6 522.6 1336.9 521.8 1338.3 523.3C1339.7 524.9 1342.2 526.1 1343.3 531.7C1344.4 537.2 1344.8 535.3 1345 556.7C1345.2 578.1 1344.4 642.8 1344.3 660"/>
<path d="M1335 522.5C1331.4 524.6 1319.4 529.6 1313.3 535C1307.2 540.4 1302.1 548.6 1298.3 555C1294.6 561.4 1292.5 566.9 1290.8 573.3C1289.2 579.7 1289 582.2 1288.3 593.3C1287.7 604.4 1287.3 628.9 1287 640C1286.7 651.1 1286.7 656.7 1286.7 660"/>
<path d="M1333.7 525C1330.5 527 1320.2 531.8 1314.7 537C1309.1 542.2 1303.9 550.1 1300.3 556.3C1296.8 562.5 1294.9 567.9 1293.3 574.2C1291.8 580.4 1291.6 582.7 1291 593.7C1290.4 604.6 1289.9 628.9 1289.7 640C1289.4 651.1 1289.7 656.7 1289.7 660"/>
<path d="M1313.3 535L1333.3 524.2L1331.7 541.7L1303.3 567.5L1299.2 555.8"/>
<path d="M1315.3 537L1331.3 528L1330 540.3L1304.7 564.2L1301.3 556.3"/>
<path d="M1291.7 588.3C1291.6 594.2 1291.5 611.4 1291.3 623.3C1291.2 635.3 1290.9 653.9 1290.8 660"/>
<path d="M1291.7 588.3L1338.3 547.5L1341.7 550L1341 660"/>
<path d="M1294.2 590L1336.7 552.5L1336 660"/>
<path d="M1292.5 590.8L1336.7 550.3"/>
<path d="M1285 650C1285 661.7 1284.8 705.3 1285 720C1285.2 734.7 1285.2 733 1286 738C1286.8 743 1286.5 744.2 1290 750C1293.5 755.8 1304.2 769.2 1307 773"/>
<path d="M1288.5 650C1288.5 661.7 1288.3 705.5 1288.5 720C1288.7 734.5 1288.7 732.2 1289.5 737C1290.3 741.8 1291.1 744.5 1293.5 749C1295.9 753.5 1302.2 761.5 1304 764"/>
<path d="M1344 650C1343.9 654.2 1344.2 666.7 1343.5 675C1342.8 683.3 1341.9 690.8 1340 700C1338.1 709.2 1335 720.3 1332 730C1329 739.7 1326.2 750.8 1322 758C1317.8 765.2 1309.5 770.5 1307 773"/>
<path d="M1341.5 650C1341.5 652.5 1341.6 661.8 1341.2 665C1340.8 668.2 1339.4 668.8 1339 669.5"/>
<path d="M1339 669.5L1293 715"/>
<path d="M1336 650L1335.8 667L1291.5 709.5"/>
<path d="M1291.5 709.5C1291.3 710 1290 711.3 1290.3 712.2C1290.5 713.1 1292.5 714.5 1293 715"/>
<path d="M1293 722L1302 715L1302.5 737L1292.5 736Z"/>
<path d="M1299.5 717.5L1300 736.5"/>
<path d="M1329 692L1338 682.5L1339 684L1338.5 694L1330 712L1328.5 710Z"/>
<path d="M1335.5 687L1336 694L1330 709"/>
<path d="M1309 708L1320 698L1324 697L1324.5 702L1317 724L1314 725.5L1307.5 714Z"/>
<path d="M1311 709L1320.5 700.5L1322 702L1315.5 722"/>
<path d="M1304.5 754L1304 740L1313 729L1322 737L1322.5 743L1309 760Z"/>
<path d="M1306.5 753L1306.2 740.5L1313.2 732L1320 738L1308.5 757"/>
<path d="M1303 720L1311.5 735L1303.5 755"/>
<path d="M1305 719L1313.5 733"/>
<path d="M1326 700L1328 701L1327 732L1324.5 738L1318 726"/>
<path d="M1325.5 706L1320 724.5"/>
<path d="M1314 725.5L1318 726"/>
<path d="M1311.5 735L1313 729"/>
<path d="M1341.5 724L1343.5 720L1387 682.5L1390 682L1391.5 684.5L1391 687L1398 688.5L1398.5 692L1398 700L1390 717L1388 716L1387 738L1385 742L1383 746L1383.5 750L1377.5 758L1369 765L1360 770L1356 770.5L1351 763L1351 750L1353.5 747.5L1342 746L1340.5 740Z"/>
<path d="M1342.5 724.5L1388 683.5"/>
<path d="M1344.5 726L1389.5 685.5"/>
<path d="M1344.5 729L1354 720L1362.5 721.5L1362 742L1353.5 741.5L1344.5 740Z"/>
<path d="M1354 720L1353 727L1353.5 741.5"/>
<path d="M1344.5 729L1353 727"/>
<path d="M1360 714L1374 702L1382.5 703.5L1383 706L1377.5 730L1371 732L1365 724L1360.5 720Z"/>
<path d="M1374 702L1368.5 715L1371 732"/>
<path d="M1368.5 715L1360 714"/>
<path d="M1380 697L1391.5 689L1398 689"/>
<path d="M1380 697L1380.5 702.5"/>
<path d="M1391.5 689L1389 695L1388.5 716"/>
<path d="M1369 764L1371 735L1377 734L1383.5 746"/>
<path d="M1368 765L1366 740L1371 733"/>
<path d="M1354 750L1363 751L1364 761L1357 759"/>
<path d="M1382.5 706L1386.5 707.5L1383 715L1387.5 740L1384.5 742"/>
<path d="M1377.5 730L1383 715"/>
<path d="M1363 751L1362.5 742"/>
<path d="M1365 724L1366 740"/>
<path d="M1150.5 982C1151.4 981 1153.8 980.2 1155.3 980.3C1156.9 980.4 1159.3 981.5 1160 982.7C1160.7 983.8 1160.3 986.3 1159.3 987.3C1158.4 988.3 1155.9 988.8 1154.3 988.7C1152.7 988.5 1150.3 987.4 1149.7 986.3C1149 985.2 1149.6 983 1150.5 982Z" style="fill:#111"/>
<path d="M1149 991.3C1149.9 990.4 1152.1 990.2 1153.7 990.3C1155.2 990.5 1157.7 991.3 1158.3 992.3C1159 993.4 1158.6 995.7 1157.7 996.7C1156.7 997.6 1154.2 998.2 1152.7 998C1151.1 997.8 1148.8 996.8 1148.2 995.7C1147.6 994.6 1148.1 992.2 1149 991.3Z" style="fill:#111"/>
<path d="M1149.7 986.7L1149.2 991"/>
<path d="M1159.2 987.7L1158.3 992"/>
<path d="M1132.2 999.3C1133.1 998.3 1135.4 997.6 1137 997.7C1138.6 997.8 1141 998.8 1141.7 1000C1142.3 1001.2 1141.9 1003.7 1141 1004.7C1140.1 1005.7 1137.6 1006.2 1136 1006C1134.4 1005.8 1132 1004.8 1131.3 1003.7C1130.7 1002.6 1131.2 1000.3 1132.2 999.3Z" style="fill:#111"/>
<path d="M1130.7 1008.3C1131.6 1007.4 1133.8 1007.2 1135.3 1007.3C1136.9 1007.5 1139.3 1008.3 1140 1009.3C1140.7 1010.4 1140.3 1012.7 1139.3 1013.7C1138.4 1014.6 1135.9 1015.2 1134.3 1015C1132.8 1014.8 1130.4 1013.8 1129.8 1012.7C1129.2 1011.6 1129.8 1009.2 1130.7 1008.3Z" style="fill:#111"/>
<path d="M1131.3 1004L1130.8 1008"/>
<path d="M1140.8 1005L1140 1009"/>
</g>
<!-- 20_p8_9_30_12.txt -->
<g>
<path d="M659.3 652L692.7 660.7"/>
<path d="M652 659.3C652.3 658.6 652.8 655.9 654 654.7C655.2 653.4 658.4 652.4 659.3 652"/>
<path d="M652 659.3C651.9 661.8 652.2 668.2 651.3 674C650.4 679.8 648.6 687.6 646.7 694C644.8 700.4 641.6 708.4 640 712.7C638.4 716.9 637.3 717.6 637.3 719.3C637.3 721.1 639.6 722.7 640 723.3"/>
<path d="M640 723.3L670 733.3L672.7 735.3"/>
<path d="M653.6 660C653.5 662.4 653.8 668.9 652.9 674.7C652 680.4 650.2 688.2 648.3 694.7C646.4 701.1 643.1 709.3 641.6 713.3C640.1 717.3 639.8 717.8 639.5 718.7"/>
<path d="M654.9 654L692 663.3"/>
<path d="M692.7 660.7C694.4 660 695.3 660.9 696 662C696.7 663.1 696.9 663.3 696.7 667.3C696.4 671.3 696.1 678.4 694.7 686C693.2 693.6 690.4 705.6 688 712.7C685.6 719.8 682.6 724.9 680 728.7C677.4 732.4 674.4 734.7 672.7 735.3C670.9 736 669.8 734.7 669.3 732.7C668.9 730.7 669.1 728 670 723.3C670.9 718.7 673 711.8 674.7 704.7C676.3 697.6 678.2 687.1 680 680.7C681.8 674.2 683.2 669.3 685.3 666C687.4 662.7 690.9 661.3 692.7 660.7Z"/>
<path d="M691.3 665.3C692.6 664.9 693.6 665.9 694 667.3C694.4 668.8 694.6 669.6 694 674C693.4 678.4 692.2 687.1 690.7 694C689.1 700.9 686.7 709.8 684.7 715.3C682.7 720.9 680.4 724.8 678.7 727.3C676.9 729.9 675 730.9 674 730.7C673 730.4 672.3 729.9 672.7 726C673 722.1 674.6 714.4 676 707.3C677.4 700.2 679.6 689.6 681.3 683.3C683.1 677.1 685 673 686.7 670C688.3 667 690.1 665.8 691.3 665.3Z"/>
<path d="M690 670C689 673.1 686.1 681.6 684 688.7C681.9 695.8 679 706.4 677.3 712.7C675.7 718.9 674.6 723.8 674 726"/>
<path d="M736 688.7C736.6 687.9 738.2 684.9 739.3 684C740.4 683.1 742.1 683.4 742.7 683.3"/>
<path d="M742.7 683.3L755.3 687.3"/>
<path d="M736 688.7C735.3 691.3 733.8 697.6 732 704.7C730.2 711.8 726.9 725.1 725.3 731.3C723.8 737.6 722.8 739.6 722.7 742C722.6 744.4 724.3 745.3 724.7 746"/>
<path d="M724.7 746L737.3 749.3"/>
<path d="M737.6 689.5C736.9 692.1 735.4 698.3 733.6 705.3C731.8 712.4 728.4 725.5 726.9 731.6C725.4 737.7 724.9 740.3 724.5 742"/>
<path d="M762 678C764 678 769 679.6 770.7 680.7C772.3 681.8 772 680.7 772 684.7C772 688.7 772 696.4 770.7 704.7C769.3 712.9 766.4 725.6 764 734C761.6 742.4 759.1 750.2 756 755.3C752.9 760.4 748.4 763.6 745.3 764.7C742.2 765.8 738.8 763.6 737.3 762C735.9 760.4 736.2 760 736.7 755.3C737.1 750.7 738.1 742.4 740 734C741.9 725.6 745.6 712.4 748 704.7C750.4 696.9 752.9 691.3 754.7 687.3C756.4 683.3 757.4 682.2 758.7 680.7C759.9 679.1 760 678 762 678Z"/>
<path d="M763.3 680C764.3 680.4 768 681.4 769.1 682.7C770.2 683.9 770.1 683.4 770 687.3C769.9 691.2 769.7 698.2 768.3 706C766.9 713.8 763.9 726 761.6 734C759.3 742 757.1 749.1 754.4 754C751.7 758.9 746.8 761.8 745.3 763.3"/>
<path d="M764.7 690C765.9 689.6 767.4 689.8 768 691.3C768.6 692.9 768.7 694.4 768 699.3C767.3 704.2 765.8 713.1 764 720.7C762.2 728.2 759.6 739 757.3 744.7C755.1 750.3 752.4 752.9 750.7 754.7C748.9 756.4 747.4 756.1 746.7 755.3C745.9 754.6 745.3 754.4 746 750C746.7 745.6 749 735.8 750.7 728.7C752.3 721.6 754.3 713.1 756 707.3C757.7 701.6 759.2 696.9 760.7 694C762.1 691.1 763.4 690.4 764.7 690Z"/>
<path d="M765.3 694C764.7 697.6 763.1 707.6 761.3 715.3C759.6 723.1 756.8 734.4 754.7 740.7C752.6 746.9 749.7 750.7 748.7 752.7"/>
<ellipse cx="758.7" cy="722" rx="2.1" ry="3.2" transform="rotate(15 758.7 722)"/>
<path d="M754.9 723.3L758 719.6"/>
<path d="M755.3 725.3L758.7 724.9"/>
<path d="M715 960L725 951.3L736.7 955L737.5 956.7L727.5 965.8L715 962.5Z"/>
<path d="M715 962.5L711.7 977.5L724.2 981.7L727.5 965.8"/>
<path d="M737.5 956.7L731.7 973.3L724.2 981.7"/>
<path d="M724.2 956.7L728.3 959.2"/>
<path d="M725 960L728.7 955.8"/>
<path d="M726.7 955L727 960.8"/>
<path d="M698.3 1078.3C698.9 1076.1 701.7 1071.2 705 1068.3C708.3 1065.4 712.5 1063.1 718.3 1060.8C724.2 1058.6 730.8 1056.4 740 1055C749.2 1053.6 762.2 1053.3 773.3 1052.5C784.4 1051.7 797.8 1050.7 806.7 1050.3C815.6 1050 821.9 1049.7 826.7 1050.3C831.4 1051 833.2 1052.7 835 1054.2C836.8 1055.6 837.6 1057.2 837.5 1059.2C837.4 1061.1 836.5 1063.8 834.2 1065.8C831.8 1067.9 827.9 1069.9 823.3 1071.7C818.8 1073.5 813.6 1075.1 806.7 1076.7C799.7 1078.2 792.8 1079.9 781.7 1080.8C770.6 1081.8 751.7 1082.1 740 1082.5C728.3 1082.9 718.1 1083.5 711.7 1083.3C705.3 1083.2 703.9 1082.5 701.7 1081.7C699.4 1080.8 697.8 1080.6 698.3 1078.3Z"/>
<path d="M704.2 1076.7C704.7 1075 706.5 1072.2 709.2 1070C711.8 1067.8 714.9 1065.3 720 1063.3C725.1 1061.3 731.1 1059.4 740 1058C748.9 1056.6 762.2 1055.8 773.3 1055C784.4 1054.2 798.1 1053.3 806.7 1053C815.3 1052.7 820.8 1052.5 825 1053C829.2 1053.5 830.3 1054.7 831.7 1055.8C833.1 1057 833.6 1058.5 833.3 1060C833.1 1061.5 831.9 1063.4 830 1065C828.1 1066.6 825.6 1068.1 821.7 1069.7C817.8 1071.2 813.3 1072.7 806.7 1074.2C800 1075.6 792.8 1077.3 781.7 1078.3C770.6 1079.4 751.4 1079.8 740 1080.3C728.6 1080.8 719 1081.4 713.3 1081.3C707.6 1081.3 707.4 1080.8 705.8 1080C704.3 1079.2 703.6 1078.3 704.2 1076.7Z"/>
<path d="M705.3 1077.7C706.7 1078 707.6 1079.4 713.3 1079.7C719.1 1079.9 728.6 1079.5 740 1079C751.4 1078.5 770.6 1077.7 781.7 1076.7C792.8 1075.6 800.1 1074.1 806.7 1072.7C813.3 1071.2 817.6 1069.5 821.3 1068C825.1 1066.5 827.9 1064.4 829.2 1063.7"/>
<path d="M709.2 1070L709.7 1080"/>
<path d="M698.3 1078.3C698.1 1081.4 697.3 1090.8 697 1096.7C696.7 1102.5 696.4 1109.4 696.7 1113.3C696.9 1117.2 697.1 1118.1 698.3 1120C699.6 1121.9 703.2 1124.2 704.2 1125"/>
<path d="M837.5 1059.2L829.2 1109.2"/>
<path d="M829.2 1109.2C828.9 1109.6 828.2 1111 827.5 1111.7C826.8 1112.4 825.4 1113.1 825 1113.3"/>
<path d="M834.2 1065.8L826.7 1106.7"/>
<path d="M696.7 1113.3C697.5 1114.4 697.2 1118.3 701.7 1120C706.1 1121.7 714.2 1122.5 723.3 1123.3C732.5 1124.2 745.6 1124.9 756.7 1125C767.8 1125.1 780.3 1125.3 790 1124.2C799.7 1123.1 809.2 1120.1 815 1118.3C820.8 1116.5 823.3 1114.2 825 1113.3"/>
<path d="M704.2 1125C707.4 1125.6 714.6 1127.3 723.3 1128.3C732.1 1129.4 746.9 1130.7 756.7 1131.3C766.4 1131.9 774.7 1132.4 781.7 1132C788.6 1131.6 793.3 1130.6 798.3 1129.2C803.3 1127.7 808.9 1125.1 811.7 1123.3C814.4 1121.5 814.4 1119.2 815 1118.3"/>
</g>
<g class="ld">
<path d="M86.1 223.1L86.3 294"/>
<circle class="dot" cx="86.3" cy="294" r="1.7"/>
<path d="M135.2 223.4L116.7 373"/>
<circle class="dot" cx="116.7" cy="373" r="1.7"/>
<path d="M195.9 223.5L195.5 325.3"/>
<circle class="dot" cx="195.5" cy="325.3" r="1.7"/>
<path d="M259.4 220.4L225.3 617.5"/>
<circle class="dot" cx="225.3" cy="617.5" r="1.7"/>
<path d="M354.1 222.5L354.7 342.2"/>
<circle class="dot" cx="354.7" cy="342.2" r="1.7"/>
<path d="M450.3 224.3L505 568.3"/>
<path d="M540.1 225.5L541.7 485"/>
<circle class="dot" cx="541.7" cy="485" r="1.7"/>
<path d="M591 225.5L590.3 500"/>
<circle class="dot" cx="590.3" cy="500" r="1.7"/>
<path d="M631 227.5L630.5 504.2"/>
<circle class="dot" cx="630.5" cy="504.2" r="1.7"/>
<path d="M683.9 226.4L640 533"/>
<circle class="dot" cx="640" cy="533" r="1.7"/>
<path d="M743.7 225.3L696.7 516.7"/>
<circle class="dot" cx="696.7" cy="516.7" r="1.7"/>
<path d="M811.7 228.8L713 544"/>
<circle class="dot" cx="713" cy="544" r="1.7"/>
<path d="M857.3 227.7L827.5 314.2"/>
<circle class="dot" cx="827.5" cy="314.2" r="1.7"/>
<path d="M915 226.1L796.7 406.3"/>
<circle class="dot" cx="796.7" cy="406.3" r="1.7"/>
<path d="M969.8 225.6L766.7 580.3"/>
<circle class="dot" cx="766.7" cy="580.3" r="1.7"/>
<path d="M1036.4 225.7L960.8 449.2"/>
<circle class="dot" cx="960.8" cy="449.2" r="1.7"/>
<path d="M1065.8 341.8L1021.3 508"/>
<circle class="dot" cx="1021.3" cy="508" r="1.7"/>
<path d="M1154.3 344.6L1100.3 528.3"/>
<circle class="dot" cx="1100.3" cy="528.3" r="1.7"/>
<path d="M1222.5 345.6L1168.3 574.2"/>
<circle class="dot" cx="1168.3" cy="574.2" r="1.7"/>
<path d="M1310.7 341.1L1257.2 528.7"/>
<circle class="dot" cx="1257.2" cy="528.7" r="1.7"/>
<path d="M1376.8 340L1335.8 541.7"/>
<circle class="dot" cx="1335.8" cy="541.7" r="1.7"/>
<path d="M1439 343L1375.8 719.2"/>
<circle class="dot" cx="1375.8" cy="719.2" r="1.7"/>
<path d="M574.1 857.3L666.7 698"/>
<circle class="dot" cx="666.7" cy="698" r="1.7"/>
<path d="M662.3 855.3L740 720"/>
<circle class="dot" cx="740" cy="720" r="1.7"/>
<path d="M737.5 854L911.3 528.7"/>
<circle class="dot" cx="911.3" cy="528.7" r="1.7"/>
<path d="M665.2 1022.4L721.7 962.5"/>
<circle class="dot" cx="721.7" cy="962.5" r="1.7"/>
<path d="M577.5 1180.7L825 944.7"/>
<circle class="dot" cx="825" cy="944.7" r="1.7"/>
<path d="M665.5 1175.9L750.5 1103"/>
<circle class="dot" cx="750.5" cy="1103" r="1.7"/>
<path d="M877.5 1117.3L855 959.2"/>
<circle class="dot" cx="855" cy="959.2" r="1.7"/>
<path d="M957.6 1118L1102.5 699.2"/>
<circle class="dot" cx="1102.5" cy="699.2" r="1.7"/>
<path d="M1065.9 1119.3L1130.8 1012.5"/>
</g>
<g class="co"><circle cx="86" cy="208.6" r="14.5"/><text transform="translate(86 215.6) scale(0.88 1)" font-size="19.2">14</text></g>
<g class="co"><circle cx="137" cy="209" r="14.5"/><text transform="translate(137 216) scale(0.88 1)" font-size="19.2">15</text></g>
<g class="co"><circle cx="196" cy="209" r="14.5"/><text transform="translate(196 216) scale(0.88 1)" font-size="19.2">16</text></g>
<g class="co"><circle cx="260.6" cy="206" r="14.5"/><text transform="translate(260.6 213) scale(0.88 1)" font-size="19.2">10</text></g>
<g class="co"><circle cx="354" cy="208" r="14.5"/><text transform="translate(354 215) scale(0.88 1)" font-size="19.2">1</text></g>
<g class="co"><circle cx="448" cy="210" r="14.5"/><text transform="translate(448 217) scale(0.88 1)" font-size="19.2">17</text></g>
<g class="co"><circle cx="540" cy="211" r="14.5"/><text transform="translate(540 218) scale(0.88 1)" font-size="19.2">18</text></g>
<g class="co"><circle cx="591" cy="211" r="14.5"/><text transform="translate(591 218) scale(0.88 1)" font-size="19.2">19</text></g>
<g class="co"><circle cx="631" cy="213" r="14.5"/><text transform="translate(631 219.5) scale(1.12 1)" font-size="17.8">20</text></g>
<g class="co"><circle cx="686" cy="212" r="14.5"/><text transform="translate(686 218.5) scale(1.12 1)" font-size="17.8">21</text></g>
<g class="co"><circle cx="746" cy="211" r="14.5"/><text transform="translate(746 217.5) scale(1.12 1)" font-size="17.8">22</text></g>
<g class="co"><circle cx="816" cy="215" r="14.5"/><text transform="translate(816 221.5) scale(1.12 1)" font-size="17.8">23</text></g>
<g class="co"><circle cx="862" cy="214" r="14.5"/><text transform="translate(862 220.5) scale(1.12 1)" font-size="17.8">2</text></g>
<g class="co"><circle cx="923" cy="214" r="14.5"/><text transform="translate(923 220.5) scale(1.12 1)" font-size="17.8">24</text></g>
<g class="co"><circle cx="977" cy="213" r="14.5"/><text transform="translate(977 219.5) scale(1.12 1)" font-size="17.8">25</text></g>
<g class="co"><circle cx="1041" cy="212" r="14.5"/><text transform="translate(1041 218.5) scale(1.12 1)" font-size="17.8">26</text></g>
<g class="co"><circle cx="1069.5" cy="327.8" r="14.5"/><text transform="translate(1069.5 334.8) scale(0.88 1)" font-size="19.2">3</text></g>
<g class="co"><circle cx="1158.4" cy="330.7" r="14.5"/><text transform="translate(1158.4 337.2) scale(1.12 1)" font-size="17.8">27</text></g>
<g class="co"><circle cx="1225.8" cy="331.5" r="14.5"/><text transform="translate(1225.8 338.5) scale(0.88 1)" font-size="19.2">6</text></g>
<g class="co"><circle cx="1314.7" cy="327.2" r="14.5"/><text transform="translate(1314.7 334.2) scale(0.88 1)" font-size="19.2">4</text></g>
<g class="co"><circle cx="1379.7" cy="325.8" r="14.5"/><text transform="translate(1379.7 332.8) scale(0.88 1)" font-size="19.2">5</text></g>
<g class="co"><circle cx="1441.4" cy="328.7" r="14.5"/><text transform="translate(1441.4 335.7) scale(0.88 1)" font-size="19.2">7</text></g>
<g class="co"><circle cx="566.8" cy="869.8" r="14.5"/><text transform="translate(566.8 876.8) scale(0.88 1)" font-size="19.2">8</text></g>
<g class="co"><circle cx="655.1" cy="867.9" r="14.5"/><text transform="translate(655.1 874.9) scale(0.88 1)" font-size="19.2">9</text></g>
<g class="co"><circle cx="730.7" cy="866.8" r="14.5"/><text transform="translate(730.7 873.8) scale(0.88 1)" font-size="19.2">31</text></g>
<g class="co"><circle cx="655.3" cy="1033" r="14.5"/><text transform="translate(655.3 1040) scale(0.88 1)" font-size="19.2">30</text></g>
<g class="co"><circle cx="567" cy="1190.7" r="14.5"/><text transform="translate(567 1197.7) scale(0.88 1)" font-size="19.2">11</text></g>
<g class="co"><circle cx="654.5" cy="1185.3" r="14.5"/><text transform="translate(654.5 1191.8) scale(1.12 1)" font-size="17.8">12</text></g>
<g class="co"><circle cx="879.5" cy="1131.7" r="14.5"/><text transform="translate(879.5 1138.2) scale(1.12 1)" font-size="17.8">29</text></g>
<g class="co"><circle cx="952.9" cy="1131.7" r="14.5"/><text transform="translate(952.9 1138.2) scale(1.12 1)" font-size="17.8">28</text></g>
<g class="co"><circle cx="1058.4" cy="1131.7" r="14.5"/><text transform="translate(1058.4 1138.7) scale(0.88 1)" font-size="19.2">13</text></g>
<g id="ft">
<rect x="0" y="1370.3" width="1500" height="1.3" fill="#000"/>
<rect x="31.1" y="1406.1" width="215.2" height="59.9" fill="#838287"/>
<text x="45.6" y="1449.8" font-size="37.9" textLength="32" lengthAdjust="spacingAndGlyphs" style="font-family:'DejaVu Sans','Liberation Sans',sans-serif;font-weight:bold;fill:#fff;stroke:#fff;stroke-width:1.2;text-anchor:start">K</text>
<text x="83.3" y="1449.8" font-size="32.1" textLength="150.3" lengthAdjust="spacingAndGlyphs" style="font-family:'DejaVu Sans','Liberation Sans',sans-serif;font-weight:bold;fill:#fff;stroke:#fff;stroke-width:1;text-anchor:start">RAFTOOL</text>
<text x="289.3" y="1450.3" font-size="35.3" textLength="108" lengthAdjust="spacingAndGlyphs" style="font-family:'Liberation Sans',sans-serif;font-weight:normal;fill:#111;text-anchor:start">45752.</text>
<text x="408" y="1450.3" font-size="33" textLength="542.7" lengthAdjust="spacingAndGlyphs" style="font-family:'DejaVu Sans Light','DejaVu Sans','Liberation Sans',sans-serif;font-weight:200;fill:#222;text-anchor:start">Схема 1-1 (Схема-состав. Тепловизор)</text>
</g>
</svg>
</body></html>
